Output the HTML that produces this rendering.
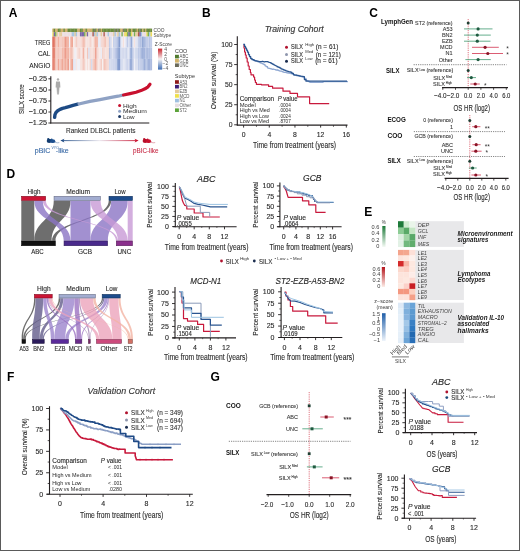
<!DOCTYPE html>
<html><head><meta charset="utf-8"><style>
html,body{margin:0;padding:0;background:#fff;}
svg{display:block;will-change:transform;}
text{font-family:"Liberation Sans", sans-serif;}
</style></head><body>
<svg width="520" height="551" viewBox="0 0 520 551">
<rect x="0" y="0" width="520" height="551" fill="#fff"/>
<text x="8.80" y="16.70" font-size="12.0" fill="#000" font-weight="bold">A</text>
<rect x="52.30" y="36.40" width="1.68" height="11.20" fill="#dd6a58"/>
<rect x="52.30" y="47.60" width="1.68" height="11.30" fill="#e27c6a"/>
<rect x="52.30" y="58.90" width="1.68" height="11.40" fill="#e37d6b"/>
<rect x="52.30" y="28.60" width="1.68" height="3.50" fill="#cdb06c"/>
<rect x="52.30" y="32.10" width="1.68" height="4.30" fill="#eedc60"/>
<rect x="53.68" y="36.40" width="1.68" height="11.20" fill="#e58675"/>
<rect x="53.68" y="47.60" width="1.68" height="11.30" fill="#e58675"/>
<rect x="53.68" y="58.90" width="1.68" height="11.40" fill="#e99281"/>
<rect x="53.68" y="28.60" width="1.68" height="3.50" fill="#6a8a3c"/>
<rect x="53.68" y="32.10" width="1.68" height="4.30" fill="#7a68a8"/>
<rect x="55.06" y="36.40" width="1.68" height="11.20" fill="#f2b7a8"/>
<rect x="55.06" y="47.60" width="1.68" height="11.30" fill="#f3c3b7"/>
<rect x="55.06" y="58.90" width="1.68" height="11.40" fill="#f3c3b7"/>
<rect x="55.06" y="28.60" width="1.68" height="3.50" fill="#cdb06c"/>
<rect x="55.06" y="32.10" width="1.68" height="4.30" fill="#78ae58"/>
<rect x="56.45" y="36.40" width="1.68" height="11.20" fill="#f4d0c7"/>
<rect x="56.45" y="47.60" width="1.68" height="11.30" fill="#f4cec5"/>
<rect x="56.45" y="58.90" width="1.68" height="11.40" fill="#f5d2ca"/>
<rect x="56.45" y="28.60" width="1.68" height="3.50" fill="#cdb06c"/>
<rect x="56.45" y="32.10" width="1.68" height="4.30" fill="#e6cc9e"/>
<rect x="57.83" y="36.40" width="1.68" height="11.20" fill="#f2b0a0"/>
<rect x="57.83" y="47.60" width="1.68" height="11.30" fill="#f4c6bb"/>
<rect x="57.83" y="58.90" width="1.68" height="11.40" fill="#efa696"/>
<rect x="57.83" y="28.60" width="1.68" height="3.50" fill="#6a8a3c"/>
<rect x="57.83" y="32.10" width="1.68" height="4.30" fill="#ecdfe2"/>
<rect x="59.21" y="36.40" width="1.68" height="11.20" fill="#f4cac0"/>
<rect x="59.21" y="47.60" width="1.68" height="11.30" fill="#f4ccc3"/>
<rect x="59.21" y="58.90" width="1.68" height="11.40" fill="#f4c9bf"/>
<rect x="59.21" y="28.60" width="1.68" height="3.50" fill="#6a8a3c"/>
<rect x="59.21" y="32.10" width="1.68" height="4.30" fill="#e6cc9e"/>
<rect x="60.59" y="36.40" width="1.68" height="11.20" fill="#f4cfc7"/>
<rect x="60.59" y="47.60" width="1.68" height="11.30" fill="#f4d1c9"/>
<rect x="60.59" y="58.90" width="1.68" height="11.40" fill="#f3bbae"/>
<rect x="60.59" y="28.60" width="1.68" height="3.50" fill="#cdb06c"/>
<rect x="60.59" y="32.10" width="1.68" height="4.30" fill="#e6cc9e"/>
<rect x="61.97" y="36.40" width="1.68" height="11.20" fill="#f4c6bb"/>
<rect x="61.97" y="47.60" width="1.68" height="11.30" fill="#f3baac"/>
<rect x="61.97" y="58.90" width="1.68" height="11.40" fill="#efa998"/>
<rect x="61.97" y="28.60" width="1.68" height="3.50" fill="#cdb06c"/>
<rect x="61.97" y="32.10" width="1.68" height="4.30" fill="#ecdfe2"/>
<rect x="63.36" y="36.40" width="1.68" height="11.20" fill="#f3c1b5"/>
<rect x="63.36" y="47.60" width="1.68" height="11.30" fill="#f3b8aa"/>
<rect x="63.36" y="58.90" width="1.68" height="11.40" fill="#f3bfb3"/>
<rect x="63.36" y="28.60" width="1.68" height="3.50" fill="#6a8a3c"/>
<rect x="63.36" y="32.10" width="1.68" height="4.30" fill="#ecdfe2"/>
<rect x="64.74" y="36.40" width="1.68" height="11.20" fill="#eb9b8a"/>
<rect x="64.74" y="47.60" width="1.68" height="11.30" fill="#ec9c8c"/>
<rect x="64.74" y="58.90" width="1.68" height="11.40" fill="#f0ac9c"/>
<rect x="64.74" y="28.60" width="1.68" height="3.50" fill="#cdb06c"/>
<rect x="64.74" y="32.10" width="1.68" height="4.30" fill="#ecdfe2"/>
<rect x="66.12" y="36.40" width="1.68" height="11.20" fill="#f0ac9c"/>
<rect x="66.12" y="47.60" width="1.68" height="11.30" fill="#f2b2a3"/>
<rect x="66.12" y="58.90" width="1.68" height="11.40" fill="#f3bdaf"/>
<rect x="66.12" y="28.60" width="1.68" height="3.50" fill="#cdb06c"/>
<rect x="66.12" y="32.10" width="1.68" height="4.30" fill="#ecdfe2"/>
<rect x="67.50" y="36.40" width="1.68" height="11.20" fill="#f1af9f"/>
<rect x="67.50" y="47.60" width="1.68" height="11.30" fill="#f1af9f"/>
<rect x="67.50" y="58.90" width="1.68" height="11.40" fill="#ea9786"/>
<rect x="67.50" y="28.60" width="1.68" height="3.50" fill="#6a8a3c"/>
<rect x="67.50" y="32.10" width="1.68" height="4.30" fill="#ecdfe2"/>
<rect x="68.88" y="36.40" width="1.68" height="11.20" fill="#f0f0f7"/>
<rect x="68.88" y="47.60" width="1.68" height="11.30" fill="#f5d6cf"/>
<rect x="68.88" y="58.90" width="1.68" height="11.40" fill="#f6e4e1"/>
<rect x="68.88" y="28.60" width="1.68" height="3.50" fill="#6a8a3c"/>
<rect x="68.88" y="32.10" width="1.68" height="4.30" fill="#ecdfe2"/>
<rect x="70.27" y="36.40" width="1.68" height="11.20" fill="#f2b0a0"/>
<rect x="70.27" y="47.60" width="1.68" height="11.30" fill="#f2b7a8"/>
<rect x="70.27" y="58.90" width="1.68" height="11.40" fill="#f2b5a5"/>
<rect x="70.27" y="28.60" width="1.68" height="3.50" fill="#6a8a3c"/>
<rect x="70.27" y="32.10" width="1.68" height="4.30" fill="#ecdfe2"/>
<rect x="71.65" y="36.40" width="1.68" height="11.20" fill="#efa897"/>
<rect x="71.65" y="47.60" width="1.68" height="11.30" fill="#f4cbc1"/>
<rect x="71.65" y="58.90" width="1.68" height="11.40" fill="#eea695"/>
<rect x="71.65" y="28.60" width="1.68" height="3.50" fill="#6a8a3c"/>
<rect x="71.65" y="32.10" width="1.68" height="4.30" fill="#a8c6e2"/>
<rect x="73.03" y="36.40" width="1.68" height="11.20" fill="#f7edec"/>
<rect x="73.03" y="47.60" width="1.68" height="11.30" fill="#f6e2de"/>
<rect x="73.03" y="58.90" width="1.68" height="11.40" fill="#e2e5f2"/>
<rect x="73.03" y="28.60" width="1.68" height="3.50" fill="#6a8a3c"/>
<rect x="73.03" y="32.10" width="1.68" height="4.30" fill="#a8c6e2"/>
<rect x="74.41" y="36.40" width="1.68" height="11.20" fill="#f5ded9"/>
<rect x="74.41" y="47.60" width="1.68" height="11.30" fill="#eff0f7"/>
<rect x="74.41" y="58.90" width="1.68" height="11.40" fill="#e8eaf4"/>
<rect x="74.41" y="28.60" width="1.68" height="3.50" fill="#6a8a3c"/>
<rect x="74.41" y="32.10" width="1.68" height="4.30" fill="#e6cc9e"/>
<rect x="75.79" y="36.40" width="1.68" height="11.20" fill="#f4cdc4"/>
<rect x="75.79" y="47.60" width="1.68" height="11.30" fill="#f7ebea"/>
<rect x="75.79" y="58.90" width="1.68" height="11.40" fill="#f6e8e6"/>
<rect x="75.79" y="28.60" width="1.68" height="3.50" fill="#6a8a3c"/>
<rect x="75.79" y="32.10" width="1.68" height="4.30" fill="#a8c6e2"/>
<rect x="77.17" y="36.40" width="1.68" height="11.20" fill="#f5dad5"/>
<rect x="77.17" y="47.60" width="1.68" height="11.30" fill="#f5dbd6"/>
<rect x="77.17" y="58.90" width="1.68" height="11.40" fill="#efeff6"/>
<rect x="77.17" y="28.60" width="1.68" height="3.50" fill="#cdb06c"/>
<rect x="77.17" y="32.10" width="1.68" height="4.30" fill="#ecdfe2"/>
<rect x="78.56" y="36.40" width="1.68" height="11.20" fill="#f6e1dd"/>
<rect x="78.56" y="47.60" width="1.68" height="11.30" fill="#f5d3cb"/>
<rect x="78.56" y="58.90" width="1.68" height="11.40" fill="#f0f1f7"/>
<rect x="78.56" y="28.60" width="1.68" height="3.50" fill="#cdb06c"/>
<rect x="78.56" y="32.10" width="1.68" height="4.30" fill="#ecdfe2"/>
<rect x="79.94" y="36.40" width="1.68" height="11.20" fill="#f6dfdb"/>
<rect x="79.94" y="47.60" width="1.68" height="11.30" fill="#f6e1dd"/>
<rect x="79.94" y="58.90" width="1.68" height="11.40" fill="#f6e4e1"/>
<rect x="79.94" y="28.60" width="1.68" height="3.50" fill="#6a8a3c"/>
<rect x="79.94" y="32.10" width="1.68" height="4.30" fill="#7a68a8"/>
<rect x="81.32" y="36.40" width="1.68" height="11.20" fill="#f5d2ca"/>
<rect x="81.32" y="47.60" width="1.68" height="11.30" fill="#f6e3e0"/>
<rect x="81.32" y="58.90" width="1.68" height="11.40" fill="#f5ddd8"/>
<rect x="81.32" y="28.60" width="1.68" height="3.50" fill="#6a8a3c"/>
<rect x="81.32" y="32.10" width="1.68" height="4.30" fill="#7a68a8"/>
<rect x="82.70" y="36.40" width="1.68" height="11.20" fill="#f3bfb2"/>
<rect x="82.70" y="47.60" width="1.68" height="11.30" fill="#f2b4a5"/>
<rect x="82.70" y="58.90" width="1.68" height="11.40" fill="#f4cac0"/>
<rect x="82.70" y="28.60" width="1.68" height="3.50" fill="#cdb06c"/>
<rect x="82.70" y="32.10" width="1.68" height="4.30" fill="#7a68a8"/>
<rect x="84.08" y="36.40" width="1.68" height="11.20" fill="#f3c3b7"/>
<rect x="84.08" y="47.60" width="1.68" height="11.30" fill="#f5dad4"/>
<rect x="84.08" y="58.90" width="1.68" height="11.40" fill="#f4d1c9"/>
<rect x="84.08" y="28.60" width="1.68" height="3.50" fill="#cdb06c"/>
<rect x="84.08" y="32.10" width="1.68" height="4.30" fill="#78ae58"/>
<rect x="85.47" y="36.40" width="1.68" height="11.20" fill="#f6e8e6"/>
<rect x="85.47" y="47.60" width="1.68" height="11.30" fill="#f7eeed"/>
<rect x="85.47" y="58.90" width="1.68" height="11.40" fill="#f7f0f0"/>
<rect x="85.47" y="28.60" width="1.68" height="3.50" fill="#6a8a3c"/>
<rect x="85.47" y="32.10" width="1.68" height="4.30" fill="#e6cc9e"/>
<rect x="86.85" y="36.40" width="1.68" height="11.20" fill="#f6e3e0"/>
<rect x="86.85" y="47.60" width="1.68" height="11.30" fill="#f4c6bb"/>
<rect x="86.85" y="58.90" width="1.68" height="11.40" fill="#f6e0db"/>
<rect x="86.85" y="28.60" width="1.68" height="3.50" fill="#cdb06c"/>
<rect x="86.85" y="32.10" width="1.68" height="4.30" fill="#7a68a8"/>
<rect x="88.23" y="36.40" width="1.68" height="11.20" fill="#f6e2de"/>
<rect x="88.23" y="47.60" width="1.68" height="11.30" fill="#dbe0f0"/>
<rect x="88.23" y="58.90" width="1.68" height="11.40" fill="#f7efee"/>
<rect x="88.23" y="28.60" width="1.68" height="3.50" fill="#cdb06c"/>
<rect x="88.23" y="32.10" width="1.68" height="4.30" fill="#ecdfe2"/>
<rect x="89.61" y="36.40" width="1.68" height="11.20" fill="#f5d5ce"/>
<rect x="89.61" y="47.60" width="1.68" height="11.30" fill="#f5ded9"/>
<rect x="89.61" y="58.90" width="1.68" height="11.40" fill="#f5d6cf"/>
<rect x="89.61" y="28.60" width="1.68" height="3.50" fill="#cdb06c"/>
<rect x="89.61" y="32.10" width="1.68" height="4.30" fill="#ecdfe2"/>
<rect x="90.99" y="36.40" width="1.68" height="11.20" fill="#f6e0dc"/>
<rect x="90.99" y="47.60" width="1.68" height="11.30" fill="#f6e2de"/>
<rect x="90.99" y="58.90" width="1.68" height="11.40" fill="#d6dcee"/>
<rect x="90.99" y="28.60" width="1.68" height="3.50" fill="#cdb06c"/>
<rect x="90.99" y="32.10" width="1.68" height="4.30" fill="#ecdfe2"/>
<rect x="92.38" y="36.40" width="1.68" height="11.20" fill="#f6e9e7"/>
<rect x="92.38" y="47.60" width="1.68" height="11.30" fill="#f5dcd7"/>
<rect x="92.38" y="58.90" width="1.68" height="11.40" fill="#f4cfc7"/>
<rect x="92.38" y="28.60" width="1.68" height="3.50" fill="#6a8a3c"/>
<rect x="92.38" y="32.10" width="1.68" height="4.30" fill="#b05a50"/>
<rect x="93.76" y="36.40" width="1.68" height="11.20" fill="#f4cbc1"/>
<rect x="93.76" y="47.60" width="1.68" height="11.30" fill="#f5d5ce"/>
<rect x="93.76" y="58.90" width="1.68" height="11.40" fill="#f3c1b4"/>
<rect x="93.76" y="28.60" width="1.68" height="3.50" fill="#7a7a6a"/>
<rect x="93.76" y="32.10" width="1.68" height="4.30" fill="#a8c6e2"/>
<rect x="95.14" y="36.40" width="1.68" height="11.20" fill="#f0ac9c"/>
<rect x="95.14" y="47.60" width="1.68" height="11.30" fill="#ea9787"/>
<rect x="95.14" y="58.90" width="1.68" height="11.40" fill="#efa898"/>
<rect x="95.14" y="28.60" width="1.68" height="3.50" fill="#6a8a3c"/>
<rect x="95.14" y="32.10" width="1.68" height="4.30" fill="#e6cc9e"/>
<rect x="96.52" y="36.40" width="1.68" height="11.20" fill="#f2b7a8"/>
<rect x="96.52" y="47.60" width="1.68" height="11.30" fill="#f5dad4"/>
<rect x="96.52" y="58.90" width="1.68" height="11.40" fill="#f5dad4"/>
<rect x="96.52" y="28.60" width="1.68" height="3.50" fill="#cdb06c"/>
<rect x="96.52" y="32.10" width="1.68" height="4.30" fill="#a8c6e2"/>
<rect x="97.90" y="36.40" width="1.68" height="11.20" fill="#e7e9f4"/>
<rect x="97.90" y="47.60" width="1.68" height="11.30" fill="#f6e2df"/>
<rect x="97.90" y="58.90" width="1.68" height="11.40" fill="#f6e9e7"/>
<rect x="97.90" y="28.60" width="1.68" height="3.50" fill="#7a7a6a"/>
<rect x="97.90" y="32.10" width="1.68" height="4.30" fill="#ecdfe2"/>
<rect x="99.29" y="36.40" width="1.68" height="11.20" fill="#e9ebf5"/>
<rect x="99.29" y="47.60" width="1.68" height="11.30" fill="#f6eae8"/>
<rect x="99.29" y="58.90" width="1.68" height="11.40" fill="#f6dfdb"/>
<rect x="99.29" y="28.60" width="1.68" height="3.50" fill="#6a8a3c"/>
<rect x="99.29" y="32.10" width="1.68" height="4.30" fill="#ecdfe2"/>
<rect x="100.67" y="36.40" width="1.68" height="11.20" fill="#f5dad5"/>
<rect x="100.67" y="47.60" width="1.68" height="11.30" fill="#ebecf5"/>
<rect x="100.67" y="58.90" width="1.68" height="11.40" fill="#f4cec5"/>
<rect x="100.67" y="28.60" width="1.68" height="3.50" fill="#cdb06c"/>
<rect x="100.67" y="32.10" width="1.68" height="4.30" fill="#e6cc9e"/>
<rect x="102.05" y="36.40" width="1.68" height="11.20" fill="#f5d7d0"/>
<rect x="102.05" y="47.60" width="1.68" height="11.30" fill="#f4d1c8"/>
<rect x="102.05" y="58.90" width="1.68" height="11.40" fill="#f7f0f0"/>
<rect x="102.05" y="28.60" width="1.68" height="3.50" fill="#6a8a3c"/>
<rect x="102.05" y="32.10" width="1.68" height="4.30" fill="#ecdfe2"/>
<rect x="103.43" y="36.40" width="1.68" height="11.20" fill="#f4cbc1"/>
<rect x="103.43" y="47.60" width="1.68" height="11.30" fill="#f5d9d3"/>
<rect x="103.43" y="58.90" width="1.68" height="11.40" fill="#f3c3b8"/>
<rect x="103.43" y="28.60" width="1.68" height="3.50" fill="#6a8a3c"/>
<rect x="103.43" y="32.10" width="1.68" height="4.30" fill="#b05a50"/>
<rect x="104.81" y="36.40" width="1.68" height="11.20" fill="#f3c4b8"/>
<rect x="104.81" y="47.60" width="1.68" height="11.30" fill="#f6e5e2"/>
<rect x="104.81" y="58.90" width="1.68" height="11.40" fill="#f4cdc3"/>
<rect x="104.81" y="28.60" width="1.68" height="3.50" fill="#6a8a3c"/>
<rect x="104.81" y="32.10" width="1.68" height="4.30" fill="#ecdfe2"/>
<rect x="106.20" y="36.40" width="1.68" height="11.20" fill="#f5ddd7"/>
<rect x="106.20" y="47.60" width="1.68" height="11.30" fill="#f5ddd7"/>
<rect x="106.20" y="58.90" width="1.68" height="11.40" fill="#f5d2ca"/>
<rect x="106.20" y="28.60" width="1.68" height="3.50" fill="#6a8a3c"/>
<rect x="106.20" y="32.10" width="1.68" height="4.30" fill="#ecdfe2"/>
<rect x="107.58" y="36.40" width="1.68" height="11.20" fill="#f5dbd6"/>
<rect x="107.58" y="47.60" width="1.68" height="11.30" fill="#f5ddd8"/>
<rect x="107.58" y="58.90" width="1.68" height="11.40" fill="#f5dcd6"/>
<rect x="107.58" y="28.60" width="1.68" height="3.50" fill="#6a8a3c"/>
<rect x="107.58" y="32.10" width="1.68" height="4.30" fill="#a8c6e2"/>
<rect x="108.96" y="36.40" width="1.68" height="11.20" fill="#c3cde8"/>
<rect x="108.96" y="47.60" width="1.68" height="11.30" fill="#b0bfe1"/>
<rect x="108.96" y="58.90" width="1.68" height="11.40" fill="#d3daee"/>
<rect x="108.96" y="28.60" width="1.68" height="3.50" fill="#6a8a3c"/>
<rect x="108.96" y="32.10" width="1.68" height="4.30" fill="#ecdfe2"/>
<rect x="110.34" y="36.40" width="1.68" height="11.20" fill="#d7ddef"/>
<rect x="110.34" y="47.60" width="1.68" height="11.30" fill="#cad3eb"/>
<rect x="110.34" y="58.90" width="1.68" height="11.40" fill="#d3daed"/>
<rect x="110.34" y="28.60" width="1.68" height="3.50" fill="#6a8a3c"/>
<rect x="110.34" y="32.10" width="1.68" height="4.30" fill="#ecdfe2"/>
<rect x="111.72" y="36.40" width="1.68" height="11.20" fill="#f7f0ef"/>
<rect x="111.72" y="47.60" width="1.68" height="11.30" fill="#dfe3f1"/>
<rect x="111.72" y="58.90" width="1.68" height="11.40" fill="#d4daee"/>
<rect x="111.72" y="28.60" width="1.68" height="3.50" fill="#6a8a3c"/>
<rect x="111.72" y="32.10" width="1.68" height="4.30" fill="#ecdfe2"/>
<rect x="113.11" y="36.40" width="1.68" height="11.20" fill="#c1cce8"/>
<rect x="113.11" y="47.60" width="1.68" height="11.30" fill="#ccd4eb"/>
<rect x="113.11" y="58.90" width="1.68" height="11.40" fill="#cad3ea"/>
<rect x="113.11" y="28.60" width="1.68" height="3.50" fill="#6a8a3c"/>
<rect x="113.11" y="32.10" width="1.68" height="4.30" fill="#e6cc9e"/>
<rect x="114.49" y="36.40" width="1.68" height="11.20" fill="#cbd4eb"/>
<rect x="114.49" y="47.60" width="1.68" height="11.30" fill="#c1cbe7"/>
<rect x="114.49" y="58.90" width="1.68" height="11.40" fill="#cad3eb"/>
<rect x="114.49" y="28.60" width="1.68" height="3.50" fill="#7a7a6a"/>
<rect x="114.49" y="32.10" width="1.68" height="4.30" fill="#a8c6e2"/>
<rect x="115.87" y="36.40" width="1.68" height="11.20" fill="#c3cde8"/>
<rect x="115.87" y="47.60" width="1.68" height="11.30" fill="#b2c0e2"/>
<rect x="115.87" y="58.90" width="1.68" height="11.40" fill="#c4cee8"/>
<rect x="115.87" y="28.60" width="1.68" height="3.50" fill="#6a8a3c"/>
<rect x="115.87" y="32.10" width="1.68" height="4.30" fill="#ecdfe2"/>
<rect x="117.25" y="36.40" width="1.68" height="11.20" fill="#a9b9de"/>
<rect x="117.25" y="47.60" width="1.68" height="11.30" fill="#92a7d4"/>
<rect x="117.25" y="58.90" width="1.68" height="11.40" fill="#8099cd"/>
<rect x="117.25" y="28.60" width="1.68" height="3.50" fill="#7a7a6a"/>
<rect x="117.25" y="32.10" width="1.68" height="4.30" fill="#e6cc9e"/>
<rect x="118.63" y="36.40" width="1.68" height="11.20" fill="#839bce"/>
<rect x="118.63" y="47.60" width="1.68" height="11.30" fill="#8ba2d1"/>
<rect x="118.63" y="58.90" width="1.68" height="11.40" fill="#8199cd"/>
<rect x="118.63" y="28.60" width="1.68" height="3.50" fill="#6a8a3c"/>
<rect x="118.63" y="32.10" width="1.68" height="4.30" fill="#a8c6e2"/>
<rect x="120.02" y="36.40" width="1.68" height="11.20" fill="#cad3eb"/>
<rect x="120.02" y="47.60" width="1.68" height="11.30" fill="#ced6ec"/>
<rect x="120.02" y="58.90" width="1.68" height="11.40" fill="#c7d1ea"/>
<rect x="120.02" y="28.60" width="1.68" height="3.50" fill="#cdb06c"/>
<rect x="120.02" y="32.10" width="1.68" height="4.30" fill="#ecdfe2"/>
<rect x="121.40" y="36.40" width="1.68" height="11.20" fill="#eeeef6"/>
<rect x="121.40" y="47.60" width="1.68" height="11.30" fill="#d6dcee"/>
<rect x="121.40" y="58.90" width="1.68" height="11.40" fill="#d4dbee"/>
<rect x="121.40" y="28.60" width="1.68" height="3.50" fill="#cdb06c"/>
<rect x="121.40" y="32.10" width="1.68" height="4.30" fill="#78ae58"/>
<rect x="122.78" y="36.40" width="1.68" height="11.20" fill="#f6e2de"/>
<rect x="122.78" y="47.60" width="1.68" height="11.30" fill="#d4daee"/>
<rect x="122.78" y="58.90" width="1.68" height="11.40" fill="#e5e7f3"/>
<rect x="122.78" y="28.60" width="1.68" height="3.50" fill="#7a7a6a"/>
<rect x="122.78" y="32.10" width="1.68" height="4.30" fill="#ecdfe2"/>
<rect x="124.16" y="36.40" width="1.68" height="11.20" fill="#f0f0f7"/>
<rect x="124.16" y="47.60" width="1.68" height="11.30" fill="#d7ddef"/>
<rect x="124.16" y="58.90" width="1.68" height="11.40" fill="#dfe3f1"/>
<rect x="124.16" y="28.60" width="1.68" height="3.50" fill="#6a8a3c"/>
<rect x="124.16" y="32.10" width="1.68" height="4.30" fill="#eedc60"/>
<rect x="125.54" y="36.40" width="1.68" height="11.20" fill="#dadff0"/>
<rect x="125.54" y="47.60" width="1.68" height="11.30" fill="#cbd4eb"/>
<rect x="125.54" y="58.90" width="1.68" height="11.40" fill="#d2d9ed"/>
<rect x="125.54" y="28.60" width="1.68" height="3.50" fill="#6a8a3c"/>
<rect x="125.54" y="32.10" width="1.68" height="4.30" fill="#eedc60"/>
<rect x="126.93" y="36.40" width="1.68" height="11.20" fill="#bfcae7"/>
<rect x="126.93" y="47.60" width="1.68" height="11.30" fill="#dde2f1"/>
<rect x="126.93" y="58.90" width="1.68" height="11.40" fill="#cdd5ec"/>
<rect x="126.93" y="28.60" width="1.68" height="3.50" fill="#cdb06c"/>
<rect x="126.93" y="32.10" width="1.68" height="4.30" fill="#78ae58"/>
<rect x="128.31" y="36.40" width="1.68" height="11.20" fill="#dce1f0"/>
<rect x="128.31" y="47.60" width="1.68" height="11.30" fill="#e2e6f2"/>
<rect x="128.31" y="58.90" width="1.68" height="11.40" fill="#d5dbee"/>
<rect x="128.31" y="28.60" width="1.68" height="3.50" fill="#6a8a3c"/>
<rect x="128.31" y="32.10" width="1.68" height="4.30" fill="#7a68a8"/>
<rect x="129.69" y="36.40" width="1.68" height="11.20" fill="#bac6e5"/>
<rect x="129.69" y="47.60" width="1.68" height="11.30" fill="#a7b8dd"/>
<rect x="129.69" y="58.90" width="1.68" height="11.40" fill="#99acd7"/>
<rect x="129.69" y="28.60" width="1.68" height="3.50" fill="#6a8a3c"/>
<rect x="129.69" y="32.10" width="1.68" height="4.30" fill="#78ae58"/>
<rect x="131.07" y="36.40" width="1.68" height="11.20" fill="#93a8d5"/>
<rect x="131.07" y="47.60" width="1.68" height="11.30" fill="#98acd7"/>
<rect x="131.07" y="58.90" width="1.68" height="11.40" fill="#97abd6"/>
<rect x="131.07" y="28.60" width="1.68" height="3.50" fill="#cdb06c"/>
<rect x="131.07" y="32.10" width="1.68" height="4.30" fill="#eedc60"/>
<rect x="132.45" y="36.40" width="1.68" height="11.20" fill="#e9ebf4"/>
<rect x="132.45" y="47.60" width="1.68" height="11.30" fill="#cbd3eb"/>
<rect x="132.45" y="58.90" width="1.68" height="11.40" fill="#c9d2ea"/>
<rect x="132.45" y="28.60" width="1.68" height="3.50" fill="#6a8a3c"/>
<rect x="132.45" y="32.10" width="1.68" height="4.30" fill="#ecdfe2"/>
<rect x="133.83" y="36.40" width="1.68" height="11.20" fill="#f6e3df"/>
<rect x="133.83" y="47.60" width="1.68" height="11.30" fill="#e5e7f3"/>
<rect x="133.83" y="58.90" width="1.68" height="11.40" fill="#f1f1f7"/>
<rect x="133.83" y="28.60" width="1.68" height="3.50" fill="#6a8a3c"/>
<rect x="133.83" y="32.10" width="1.68" height="4.30" fill="#78ae58"/>
<rect x="135.22" y="36.40" width="1.68" height="11.20" fill="#e2e5f2"/>
<rect x="135.22" y="47.60" width="1.68" height="11.30" fill="#ced6ec"/>
<rect x="135.22" y="58.90" width="1.68" height="11.40" fill="#d5dbee"/>
<rect x="135.22" y="28.60" width="1.68" height="3.50" fill="#6a8a3c"/>
<rect x="135.22" y="32.10" width="1.68" height="4.30" fill="#e6cc9e"/>
<rect x="136.60" y="36.40" width="1.68" height="11.20" fill="#dfe3f1"/>
<rect x="136.60" y="47.60" width="1.68" height="11.30" fill="#d3daed"/>
<rect x="136.60" y="58.90" width="1.68" height="11.40" fill="#dee3f1"/>
<rect x="136.60" y="28.60" width="1.68" height="3.50" fill="#cdb06c"/>
<rect x="136.60" y="32.10" width="1.68" height="4.30" fill="#e6cc9e"/>
<rect x="137.98" y="36.40" width="1.68" height="11.20" fill="#c5cfe9"/>
<rect x="137.98" y="47.60" width="1.68" height="11.30" fill="#bdc9e6"/>
<rect x="137.98" y="58.90" width="1.68" height="11.40" fill="#c0cbe7"/>
<rect x="137.98" y="28.60" width="1.68" height="3.50" fill="#6a8a3c"/>
<rect x="137.98" y="32.10" width="1.68" height="4.30" fill="#b05a50"/>
<rect x="139.36" y="36.40" width="1.68" height="11.20" fill="#b1bfe1"/>
<rect x="139.36" y="47.60" width="1.68" height="11.30" fill="#bfcae7"/>
<rect x="139.36" y="58.90" width="1.68" height="11.40" fill="#c6d0e9"/>
<rect x="139.36" y="28.60" width="1.68" height="3.50" fill="#7a7a6a"/>
<rect x="139.36" y="32.10" width="1.68" height="4.30" fill="#7a68a8"/>
<rect x="140.74" y="36.40" width="1.68" height="11.20" fill="#becae7"/>
<rect x="140.74" y="47.60" width="1.68" height="11.30" fill="#a9b9de"/>
<rect x="140.74" y="58.90" width="1.68" height="11.40" fill="#c3cde8"/>
<rect x="140.74" y="28.60" width="1.68" height="3.50" fill="#6a8a3c"/>
<rect x="140.74" y="32.10" width="1.68" height="4.30" fill="#a8c6e2"/>
<rect x="142.13" y="36.40" width="1.68" height="11.20" fill="#879ecf"/>
<rect x="142.13" y="47.60" width="1.68" height="11.30" fill="#95a9d5"/>
<rect x="142.13" y="58.90" width="1.68" height="11.40" fill="#bac6e5"/>
<rect x="142.13" y="28.60" width="1.68" height="3.50" fill="#cdb06c"/>
<rect x="142.13" y="32.10" width="1.68" height="4.30" fill="#ecdfe2"/>
<rect x="143.51" y="36.40" width="1.68" height="11.20" fill="#a9b9de"/>
<rect x="143.51" y="47.60" width="1.68" height="11.30" fill="#a0b2da"/>
<rect x="143.51" y="58.90" width="1.68" height="11.40" fill="#9cafd8"/>
<rect x="143.51" y="28.60" width="1.68" height="3.50" fill="#6a8a3c"/>
<rect x="143.51" y="32.10" width="1.68" height="4.30" fill="#ecdfe2"/>
<rect x="144.89" y="36.40" width="1.68" height="11.20" fill="#b6c3e4"/>
<rect x="144.89" y="47.60" width="1.68" height="11.30" fill="#bdc8e6"/>
<rect x="144.89" y="58.90" width="1.68" height="11.40" fill="#b3c1e2"/>
<rect x="144.89" y="28.60" width="1.68" height="3.50" fill="#cdb06c"/>
<rect x="144.89" y="32.10" width="1.68" height="4.30" fill="#ecdfe2"/>
<rect x="146.27" y="36.40" width="1.68" height="11.20" fill="#bac6e5"/>
<rect x="146.27" y="47.60" width="1.68" height="11.30" fill="#a3b4db"/>
<rect x="146.27" y="58.90" width="1.68" height="11.40" fill="#b6c3e3"/>
<rect x="146.27" y="28.60" width="1.68" height="3.50" fill="#6a8a3c"/>
<rect x="146.27" y="32.10" width="1.68" height="4.30" fill="#eedc60"/>
<rect x="147.65" y="36.40" width="1.68" height="11.20" fill="#ccd4eb"/>
<rect x="147.65" y="47.60" width="1.68" height="11.30" fill="#b7c4e4"/>
<rect x="147.65" y="58.90" width="1.68" height="11.40" fill="#a2b3db"/>
<rect x="147.65" y="28.60" width="1.68" height="3.50" fill="#6a8a3c"/>
<rect x="147.65" y="32.10" width="1.68" height="4.30" fill="#78ae58"/>
<rect x="149.04" y="36.40" width="1.68" height="11.20" fill="#b5c2e3"/>
<rect x="149.04" y="47.60" width="1.68" height="11.30" fill="#aebde0"/>
<rect x="149.04" y="58.90" width="1.68" height="11.40" fill="#a0b2da"/>
<rect x="149.04" y="28.60" width="1.68" height="3.50" fill="#6a8a3c"/>
<rect x="149.04" y="32.10" width="1.68" height="4.30" fill="#a8c6e2"/>
<rect x="150.42" y="36.40" width="1.68" height="11.20" fill="#c3cde8"/>
<rect x="150.42" y="47.60" width="1.68" height="11.30" fill="#b8c5e4"/>
<rect x="150.42" y="58.90" width="1.68" height="11.40" fill="#adbce0"/>
<rect x="150.42" y="28.60" width="1.68" height="3.50" fill="#6a8a3c"/>
<rect x="150.42" y="32.10" width="1.68" height="4.30" fill="#eedc60"/>
<text x="50.40" y="44.80" font-size="7.6" fill="#2a2a2a" stroke="#2a2a2a" stroke-width="0.12" text-anchor="end" textLength="15.60" lengthAdjust="spacingAndGlyphs">TREG</text>
<text x="50.40" y="55.80" font-size="7.6" fill="#2a2a2a" stroke="#2a2a2a" stroke-width="0.12" text-anchor="end" textLength="12.40" lengthAdjust="spacingAndGlyphs">CAL</text>
<text x="50.40" y="68.30" font-size="7.6" fill="#2a2a2a" stroke="#2a2a2a" stroke-width="0.12" text-anchor="end" textLength="21.20" lengthAdjust="spacingAndGlyphs">ANGIO</text>
<text x="153.60" y="31.60" font-size="4.8" fill="#444">COO</text>
<text x="153.60" y="36.80" font-size="4.8" fill="#444">Subtype</text>
<text x="154.80" y="46.30" font-size="4.8" fill="#444">Z-Score</text>
<defs><linearGradient id="zg" x1="0" y1="0" x2="0" y2="1"><stop offset="0" stop-color="#c8242c"/><stop offset="0.5" stop-color="#f7f4f4"/><stop offset="1" stop-color="#3b6bb3"/></linearGradient></defs>
<rect x="158.00" y="48.60" width="4.20" height="21.00" fill="url(#zg)"/>
<text x="164.20" y="51.40" font-size="5.0" fill="#555">4</text>
<text x="164.20" y="56.00" font-size="5.0" fill="#555">2</text>
<text x="164.20" y="60.60" font-size="5.0" fill="#555">0</text>
<text x="162.60" y="65.40" font-size="5.0" fill="#555">−2</text>
<text x="162.60" y="70.40" font-size="5.0" fill="#555">−4</text>
<text x="175.00" y="52.90" font-size="6.2" fill="#333" textLength="12.30" lengthAdjust="spacingAndGlyphs">COO</text>
<rect x="175.00" y="54.80" width="3.90" height="3.60" fill="#4f7a2e"/>
<text x="179.60" y="58.30" font-size="4.9" fill="#555" textLength="8.80" lengthAdjust="spacingAndGlyphs">ABC</text>
<rect x="175.00" y="59.00" width="3.90" height="3.60" fill="#d4b46a"/>
<text x="179.60" y="62.50" font-size="4.9" fill="#555" textLength="8.80" lengthAdjust="spacingAndGlyphs">GCB</text>
<rect x="175.00" y="63.40" width="3.90" height="3.60" fill="#6a6a5a"/>
<text x="179.60" y="66.90" font-size="4.9" fill="#555" textLength="8.80" lengthAdjust="spacingAndGlyphs">UNC</text>
<text x="174.80" y="78.20" font-size="6.2" fill="#333" textLength="20.20" lengthAdjust="spacingAndGlyphs">Subtype</text>
<rect x="175.00" y="80.20" width="3.90" height="3.60" fill="#8e1b1b"/>
<text x="179.60" y="83.70" font-size="4.9" fill="#555" textLength="7.60" lengthAdjust="spacingAndGlyphs">A53</text>
<rect x="175.00" y="84.90" width="3.90" height="3.60" fill="#3c1f78"/>
<text x="179.60" y="88.40" font-size="4.9" fill="#555" textLength="7.80" lengthAdjust="spacingAndGlyphs">BN2</text>
<rect x="175.00" y="89.60" width="3.90" height="3.60" fill="#e3c99a"/>
<text x="179.60" y="93.10" font-size="4.9" fill="#555" textLength="7.60" lengthAdjust="spacingAndGlyphs">EZB</text>
<rect x="175.00" y="94.10" width="3.90" height="3.60" fill="#efe04a"/>
<text x="179.60" y="97.60" font-size="4.9" fill="#555" textLength="9.90" lengthAdjust="spacingAndGlyphs">MCD</text>
<rect x="175.00" y="98.80" width="3.90" height="3.60" fill="#9fc0e0"/>
<text x="179.60" y="102.30" font-size="4.9" fill="#555" textLength="5.40" lengthAdjust="spacingAndGlyphs">N1</text>
<rect x="175.00" y="103.60" width="3.90" height="3.60" fill="#e6dde2"/>
<text x="179.60" y="107.10" font-size="4.9" fill="#555" textLength="11.40" lengthAdjust="spacingAndGlyphs">Other</text>
<rect x="175.00" y="108.40" width="3.90" height="3.60" fill="#5da33a"/>
<text x="179.60" y="111.90" font-size="4.9" fill="#555" textLength="7.20" lengthAdjust="spacingAndGlyphs">ST2</text>
<line x1="50.80" y1="76.20" x2="50.80" y2="123.40" stroke="#231f20" stroke-width="1.1"/>
<line x1="50.30" y1="123.00" x2="149.30" y2="123.00" stroke="#231f20" stroke-width="1.1"/>
<line x1="48.40" y1="78.80" x2="50.80" y2="78.80" stroke="#231f20" stroke-width="0.9"/>
<text x="47.00" y="81.20" font-size="7.0" fill="#2a2a2a" stroke="#2a2a2a" stroke-width="0.12" text-anchor="end" textLength="18.40" lengthAdjust="spacingAndGlyphs">−0.25</text>
<line x1="48.40" y1="90.00" x2="50.80" y2="90.00" stroke="#231f20" stroke-width="0.9"/>
<text x="47.00" y="92.40" font-size="7.0" fill="#2a2a2a" stroke="#2a2a2a" stroke-width="0.12" text-anchor="end" textLength="18.40" lengthAdjust="spacingAndGlyphs">−0.50</text>
<line x1="48.40" y1="101.00" x2="50.80" y2="101.00" stroke="#231f20" stroke-width="0.9"/>
<text x="47.00" y="103.40" font-size="7.0" fill="#2a2a2a" stroke="#2a2a2a" stroke-width="0.12" text-anchor="end" textLength="18.40" lengthAdjust="spacingAndGlyphs">−0.75</text>
<line x1="48.40" y1="112.00" x2="50.80" y2="112.00" stroke="#231f20" stroke-width="0.9"/>
<text x="47.00" y="114.40" font-size="7.0" fill="#2a2a2a" stroke="#2a2a2a" stroke-width="0.12" text-anchor="end" textLength="18.40" lengthAdjust="spacingAndGlyphs">−1.00</text>
<line x1="48.40" y1="123.00" x2="50.80" y2="123.00" stroke="#231f20" stroke-width="0.9"/>
<text x="47.00" y="125.40" font-size="7.0" fill="#2a2a2a" stroke="#2a2a2a" stroke-width="0.12" text-anchor="end" textLength="18.40" lengthAdjust="spacingAndGlyphs">−1.25</text>
<text x="24.00" y="99.20" font-size="8.0" fill="#2a2a2a" stroke="#2a2a2a" stroke-width="0.12" text-anchor="middle" textLength="29.60" lengthAdjust="spacingAndGlyphs" transform="rotate(-90 24.00 99.20)">SILX score</text>
<text x="100.80" y="133.40" font-size="7.2" fill="#333" stroke="#333" stroke-width="0.12" text-anchor="middle" textLength="69.50" lengthAdjust="spacingAndGlyphs">Ranked DLBCL patients</text>
<path d="M54.60,117.40 L55.00,114.60 L56.00,112.40 L57.70,110.80 L60.00,109.40 L62.50,108.40 L65.40,107.70 L69.00,106.60 L73.00,105.40 L77.70,104.20" fill="none" stroke="#1d4a84" stroke-width="3.4" stroke-linejoin="round" stroke-linecap="round"/>
<path d="M77.70,104.20 L90.00,101.40 L100.00,99.60 L110.00,97.60 L118.00,96.20 L123.50,95.00" fill="none" stroke="#8fa2c4" stroke-width="3.2" stroke-linejoin="round"/>
<path d="M123.50,95.00 L130.00,93.60 L136.00,92.20 L141.00,90.60 L145.00,88.80 L148.00,86.80 L150.00,84.20" fill="none" stroke="#c8102e" stroke-width="3.2" stroke-linejoin="round" stroke-linecap="round"/>
<g fill="#ababab"><circle cx="58.0" cy="79.4" r="1.2"/><path d="M56.0,81.4 L60.0,81.4 L60.4,87.6 L59.4,87.6 L59.0,94.4 L58.2,94.4 L58.0,89 L57.8,94.4 L57.0,94.4 L56.6,87.6 L55.6,87.6 Z"/></g>
<circle cx="119.60" cy="105.40" r="1.5" fill="#c8102e"/>
<text x="123.00" y="107.50" font-size="6.0" fill="#2a2a2a" textLength="13.60" lengthAdjust="spacingAndGlyphs">High</text>
<circle cx="119.60" cy="111.20" r="1.5" fill="#8fa2c4"/>
<text x="123.00" y="113.30" font-size="6.0" fill="#2a2a2a" textLength="23.90" lengthAdjust="spacingAndGlyphs">Medium</text>
<circle cx="119.60" cy="116.60" r="1.5" fill="#1d3a66"/>
<text x="123.00" y="118.70" font-size="6.0" fill="#2a2a2a" textLength="11.60" lengthAdjust="spacingAndGlyphs">Low</text>
<defs><linearGradient id="ag" x1="0" y1="0" x2="1" y2="0"><stop offset="0" stop-color="#1d4a84"/><stop offset="0.5" stop-color="#e8e4ec"/><stop offset="1" stop-color="#c8102e"/></linearGradient></defs>
<rect x="62.00" y="140.20" width="75.00" height="0.90" fill="url(#ag)"/>
<path d="M60.4,140.6 L64.4,138.8 L63.4,140.6 L64.4,142.4 Z" fill="#1d4a84"/>
<path d="M138.6,140.6 L134.6,138.8 L135.6,140.6 L134.6,142.4 Z" fill="#c8102e"/>
<g fill="#123c70"><ellipse cx="49.20" cy="140.9" rx="2.5" ry="2.1"/><ellipse cx="52.70" cy="141.2" rx="2.6" ry="1.9" fill="#1c4f8e"/><circle cx="48.20" cy="139.1" r="1.0"/><circle cx="51.70" cy="139.4" r="0.9" fill="#1c4f8e"/></g><path d="M54.90,142.2 Q57.20,143.2 59.30,142.6" stroke="#9fb2cc" stroke-width="0.9" fill="none"/>
<g fill="#b80f2a"><ellipse cx="145.10" cy="140.9" rx="2.5" ry="2.1"/><ellipse cx="148.60" cy="141.2" rx="2.6" ry="1.9" fill="#c8102e"/><circle cx="144.10" cy="139.1" r="1.0"/><circle cx="147.60" cy="139.4" r="0.9" fill="#c8102e"/></g><path d="M150.80,142.2 Q153.10,143.2 155.20,142.6" stroke="#e0a0ac" stroke-width="0.9" fill="none"/>
<text x="34.80" y="152.80" font-size="7.0" fill="#3a6aa6" stroke="#3a6aa6" stroke-width="0.12">pBIC</text>
<text x="51.40" y="148.80" font-size="3.4" fill="#3a6aa6">VYO</text>
<text x="55.80" y="152.80" font-size="7.0" fill="#3a6aa6" stroke="#3a6aa6" stroke-width="0.12">-like</text>
<text x="133.00" y="152.80" font-size="7.0" fill="#c8304a" stroke="#c8304a" stroke-width="0.12" textLength="25.40" lengthAdjust="spacingAndGlyphs">pBIC-like</text>
<text x="201.90" y="16.70" font-size="12.0" fill="#000" font-weight="bold">B</text>
<text x="294.20" y="31.60" font-size="8.4" fill="#333" stroke="#333" stroke-width="0.12" text-anchor="middle" font-style="italic" textLength="59.00" lengthAdjust="spacingAndGlyphs">Training Cohort</text>
<line x1="237.30" y1="36.20" x2="237.30" y2="125.60" stroke="#231f20" stroke-width="1.1"/>
<line x1="236.80" y1="125.10" x2="347.50" y2="125.10" stroke="#231f20" stroke-width="1.1"/>
<line x1="234.20" y1="44.50" x2="237.30" y2="44.50" stroke="#231f20" stroke-width="0.9"/>
<text x="232.60" y="46.90" font-size="6.8" fill="#2a2a2a" stroke="#2a2a2a" stroke-width="0.12" text-anchor="end">100</text>
<line x1="234.20" y1="64.57" x2="237.30" y2="64.57" stroke="#231f20" stroke-width="0.9"/>
<text x="232.60" y="66.97" font-size="6.8" fill="#2a2a2a" stroke="#2a2a2a" stroke-width="0.12" text-anchor="end">75</text>
<line x1="234.20" y1="84.65" x2="237.30" y2="84.65" stroke="#231f20" stroke-width="0.9"/>
<text x="232.60" y="87.05" font-size="6.8" fill="#2a2a2a" stroke="#2a2a2a" stroke-width="0.12" text-anchor="end">50</text>
<line x1="234.20" y1="104.72" x2="237.30" y2="104.72" stroke="#231f20" stroke-width="0.9"/>
<text x="232.60" y="107.12" font-size="6.8" fill="#2a2a2a" stroke="#2a2a2a" stroke-width="0.12" text-anchor="end">25</text>
<line x1="234.20" y1="124.80" x2="237.30" y2="124.80" stroke="#231f20" stroke-width="0.9"/>
<text x="232.60" y="127.20" font-size="6.8" fill="#2a2a2a" stroke="#2a2a2a" stroke-width="0.12" text-anchor="end">0</text>
<line x1="235.70" y1="54.54" x2="237.30" y2="54.54" stroke="#231f20" stroke-width="0.8"/>
<line x1="235.70" y1="74.61" x2="237.30" y2="74.61" stroke="#231f20" stroke-width="0.8"/>
<line x1="235.70" y1="94.69" x2="237.30" y2="94.69" stroke="#231f20" stroke-width="0.8"/>
<line x1="235.70" y1="114.76" x2="237.30" y2="114.76" stroke="#231f20" stroke-width="0.8"/>
<line x1="243.60" y1="125.10" x2="243.60" y2="127.60" stroke="#231f20" stroke-width="0.9"/>
<text x="243.60" y="137.10" font-size="6.8" fill="#2a2a2a" stroke="#2a2a2a" stroke-width="0.12" text-anchor="middle">0</text>
<line x1="269.28" y1="125.10" x2="269.28" y2="127.60" stroke="#231f20" stroke-width="0.9"/>
<text x="269.28" y="137.10" font-size="6.8" fill="#2a2a2a" stroke="#2a2a2a" stroke-width="0.12" text-anchor="middle">4</text>
<line x1="294.96" y1="125.10" x2="294.96" y2="127.60" stroke="#231f20" stroke-width="0.9"/>
<text x="294.96" y="137.10" font-size="6.8" fill="#2a2a2a" stroke="#2a2a2a" stroke-width="0.12" text-anchor="middle">8</text>
<line x1="320.64" y1="125.10" x2="320.64" y2="127.60" stroke="#231f20" stroke-width="0.9"/>
<text x="320.64" y="137.10" font-size="6.8" fill="#2a2a2a" stroke="#2a2a2a" stroke-width="0.12" text-anchor="middle">12</text>
<line x1="346.32" y1="125.10" x2="346.32" y2="127.60" stroke="#231f20" stroke-width="0.9"/>
<text x="346.32" y="137.10" font-size="6.8" fill="#2a2a2a" stroke="#2a2a2a" stroke-width="0.12" text-anchor="middle">16</text>
<line x1="256.44" y1="125.20" x2="256.44" y2="126.80" stroke="#231f20" stroke-width="0.7"/>
<line x1="282.12" y1="125.20" x2="282.12" y2="126.80" stroke="#231f20" stroke-width="0.7"/>
<line x1="307.80" y1="125.20" x2="307.80" y2="126.80" stroke="#231f20" stroke-width="0.7"/>
<line x1="333.48" y1="125.20" x2="333.48" y2="126.80" stroke="#231f20" stroke-width="0.7"/>
<text x="215.80" y="80.40" font-size="7.4" fill="#2a2a2a" stroke="#2a2a2a" stroke-width="0.12" text-anchor="middle" textLength="57.70" lengthAdjust="spacingAndGlyphs" transform="rotate(-90 215.80 80.40)">Overall survival (%)</text>
<text x="294.60" y="148.30" font-size="8.8" fill="#2a2a2a" stroke="#2a2a2a" stroke-width="0.12" text-anchor="middle" textLength="83.00" lengthAdjust="spacingAndGlyphs">Time from treatment (years)</text>
<path d="M243.40,45.00 L244.00,45.00 L244.00,48.00 L244.60,48.00 L244.60,52.00 L245.40,52.00 L245.40,55.00 L246.20,55.00 L246.20,58.00 L247.20,58.00 L247.20,62.00 L248.20,62.00 L248.20,66.00 L249.20,66.00 L249.20,69.50 L250.40,69.50 L250.40,72.50 L251.00,72.50 L251.00,74.80 L253.00,74.80 L253.60,74.80 L253.60,77.00 L254.60,77.00 L254.60,80.00 L255.40,80.00 L255.40,82.50 L256.40,82.50 L256.40,84.30 L261.00,84.30 L261.50,84.30 L261.50,84.80 L268.60,84.80 L268.60,86.40 L272.60,86.40 L272.60,88.20 L283.00,88.20 L283.00,91.20 L290.00,91.20 L290.00,93.40 L297.50,93.40 L297.50,96.80 L309.60,96.80 L309.60,103.60 L329.20,103.60" fill="none" stroke="#c8193c" stroke-width="1.2" stroke-linejoin="round"/>
<path d="M243.40,44.40 L244.50,44.40 L244.50,46.00 L245.50,46.00 L245.50,48.50 L246.50,48.50 L246.50,50.50 L247.50,50.50 L247.50,52.50 L248.50,52.50 L248.50,55.00 L249.50,55.00 L249.50,57.00 L250.50,57.00 L250.50,58.40 L252.00,58.40 L252.00,59.80 L253.00,59.80 L253.00,59.93 L254.00,59.93 L254.00,60.60 L255.00,60.60 L255.00,60.61 L256.00,60.61 L256.00,61.20 L257.00,61.20 L257.00,61.48 L258.00,61.48 L258.00,62.00 L259.00,62.00 L259.00,62.24 L260.00,62.24 L260.00,62.80 L261.00,62.80 L261.00,63.25 L262.00,63.25 L262.00,63.60 L263.00,63.60 L263.00,64.12 L264.00,64.12 L264.00,64.60 L265.00,64.60 L265.00,65.75 L266.00,65.75 L266.00,66.60 L267.50,66.60 L267.50,68.00 L268.75,68.00 L268.75,68.39 L270.00,68.39 L270.00,68.60 L271.00,68.60 L271.00,68.95 L272.00,68.95 L272.00,69.28 L273.00,69.28 L273.00,69.21 L274.00,69.21 L274.00,69.50 L275.00,69.50 L275.00,69.62 L276.00,69.62 L276.00,70.24 L277.00,70.24 L277.00,69.96 L278.00,69.96 L278.00,70.40 L279.00,70.40 L279.00,70.83 L280.00,70.83 L280.00,71.09 L281.00,71.09 L281.00,71.03 L282.00,71.03 L282.00,71.60 L283.00,71.60 L283.00,72.05 L284.00,72.05 L284.00,72.34 L285.00,72.34 L285.00,72.43 L286.00,72.43 L286.00,72.60 L287.00,72.60 L287.00,72.94 L288.00,72.94 L288.00,73.19 L289.00,73.19 L289.00,72.98 L290.00,72.98 L290.00,73.40 L291.00,73.40 L291.00,73.71 L292.00,73.71 L292.00,74.00 L293.00,74.00 L293.00,74.50 L294.00,74.50 L294.00,74.60 L295.00,74.60 L295.00,74.98 L296.00,74.98 L296.00,75.20 L297.00,75.20 L297.00,75.25 L298.00,75.25 L298.00,75.40 L299.00,75.40 L299.00,75.99 L300.00,75.99 L300.00,76.21 L301.00,76.21 L301.00,76.57 L302.00,76.57 L302.00,76.80 L303.20,76.80 L303.20,77.44 L304.40,77.44 L304.40,78.40 L306.00,78.40 L306.00,80.40 L307.00,80.40 L307.00,80.62 L308.00,80.62 L308.00,81.18 L309.00,81.18 L309.00,81.82 L310.00,81.82 L310.00,82.40 L323.00,82.40 L323.00,81.60 L348.00,81.60" fill="none" stroke="#8fa8d2" stroke-width="1.2" stroke-linejoin="round"/>
<path d="M243.40,44.40 L244.50,44.40 L244.50,46.50 L245.50,46.50 L245.50,48.00 L246.50,48.00 L246.50,50.00 L247.50,50.00 L247.50,52.00 L248.50,52.00 L248.50,54.50 L249.50,54.50 L249.50,56.50 L250.70,56.50 L250.70,58.60 L252.00,58.60 L252.00,59.50 L253.00,59.50 L253.00,59.71 L254.00,59.71 L254.00,60.40 L255.00,60.40 L255.00,60.80 L256.00,60.80 L256.00,60.80 L257.00,60.80 L257.00,61.14 L258.00,61.14 L258.00,61.40 L259.00,61.40 L259.00,61.58 L260.00,61.58 L260.00,61.60 L261.00,61.60 L261.00,61.58 L262.00,61.58 L262.00,61.40 L263.00,61.40 L263.00,61.71 L264.00,61.71 L264.00,61.80 L265.00,61.80 L265.00,61.69 L266.00,61.69 L266.00,61.60 L267.00,61.60 L267.00,61.50 L268.00,61.50 L268.00,62.00 L269.00,62.00 L269.00,62.48 L270.00,62.48 L270.00,62.60 L271.00,62.60 L271.00,63.35 L272.00,63.35 L272.00,63.80 L273.00,63.80 L273.00,64.40 L274.00,64.40 L274.00,65.00 L275.00,65.00 L275.00,65.52 L276.00,65.52 L276.00,66.00 L277.00,66.00 L277.00,66.70 L278.00,66.70 L278.00,67.20 L279.00,67.20 L279.00,67.44 L280.00,67.44 L280.00,68.20 L281.00,68.20 L281.00,68.84 L282.00,68.84 L282.00,69.20 L283.00,69.20 L283.00,69.55 L284.00,69.55 L284.00,70.20 L285.00,70.20 L285.00,70.34 L286.00,70.34 L286.00,71.00 L287.00,71.00 L287.00,71.16 L288.00,71.16 L288.00,71.60 L289.00,71.60 L289.00,71.84 L290.00,71.84 L290.00,71.80 L291.00,71.80 L291.00,72.42 L292.00,72.42 L292.00,73.40 L293.50,73.40 L293.50,74.80 L294.75,74.80 L294.75,75.14 L296.00,75.14 L296.00,75.20 L297.00,75.20 L297.00,75.69 L298.00,75.69 L298.00,75.60 L299.00,75.60 L299.00,75.90 L300.00,75.90 L300.00,76.20 L301.00,76.20 L301.00,76.23 L302.00,76.23 L302.00,76.40 L303.20,76.40 L303.20,76.49 L304.40,76.49 L304.40,76.60 L304.40,79.60 L306.00,79.60 L306.00,81.20 L347.00,81.20" fill="none" stroke="#2a5590" stroke-width="1.2" stroke-linejoin="round"/>
<circle cx="286.50" cy="47.20" r="1.5" fill="#b0122e"/>
<text x="290.90" y="49.30" font-size="7.0" fill="#2a2a2a" stroke="#2a2a2a" stroke-width="0.12" textLength="12.10" lengthAdjust="spacingAndGlyphs">SILX</text>
<text x="305.30" y="45.90" font-size="3.8" fill="#333" textLength="8.90" lengthAdjust="spacingAndGlyphs">High</text>
<text x="315.80" y="49.30" font-size="7.0" fill="#2a2a2a" stroke="#2a2a2a" stroke-width="0.12" textLength="22.50" lengthAdjust="spacingAndGlyphs">(n = 61)</text>
<circle cx="286.50" cy="54.40" r="1.5" fill="#8e96ad"/>
<text x="290.90" y="56.50" font-size="7.0" fill="#2a2a2a" stroke="#2a2a2a" stroke-width="0.12" textLength="12.10" lengthAdjust="spacingAndGlyphs">SILX</text>
<text x="305.30" y="53.10" font-size="3.8" fill="#333" textLength="8.00" lengthAdjust="spacingAndGlyphs">Med</text>
<text x="315.80" y="56.50" font-size="7.0" fill="#2a2a2a" stroke="#2a2a2a" stroke-width="0.12" textLength="25.00" lengthAdjust="spacingAndGlyphs">(n = 121)</text>
<circle cx="286.50" cy="61.30" r="1.5" fill="#1a2c4e"/>
<text x="290.90" y="63.40" font-size="7.0" fill="#2a2a2a" stroke="#2a2a2a" stroke-width="0.12" textLength="12.10" lengthAdjust="spacingAndGlyphs">SILX</text>
<text x="305.30" y="60.00" font-size="3.8" fill="#333" textLength="7.20" lengthAdjust="spacingAndGlyphs">Low</text>
<text x="315.20" y="63.40" font-size="7.0" fill="#2a2a2a" stroke="#2a2a2a" stroke-width="0.12" textLength="22.40" lengthAdjust="spacingAndGlyphs">(n = 61)</text>
<text x="239.70" y="101.20" font-size="6.6" fill="#2a2a2a" stroke="#2a2a2a" stroke-width="0.12" textLength="34.50" lengthAdjust="spacingAndGlyphs">Comparison</text>
<text x="277.80" y="101.20" font-size="6.6" fill="#2a2a2a" stroke="#2a2a2a" stroke-width="0.12" textLength="19.70" lengthAdjust="spacingAndGlyphs"><tspan font-style="italic">P</tspan> value</text>
<text x="239.70" y="106.90" font-size="5.4" fill="#2a2a2a" textLength="16.00" lengthAdjust="spacingAndGlyphs">Model</text>
<text x="279.10" y="106.90" font-size="5.4" fill="#2a2a2a" textLength="11.70" lengthAdjust="spacingAndGlyphs">.0004</text>
<text x="239.70" y="112.20" font-size="5.4" fill="#2a2a2a" textLength="30.10" lengthAdjust="spacingAndGlyphs">High vs Med</text>
<text x="279.10" y="112.20" font-size="5.4" fill="#2a2a2a" textLength="11.70" lengthAdjust="spacingAndGlyphs">.0004</text>
<text x="239.70" y="117.50" font-size="5.4" fill="#2a2a2a" textLength="29.30" lengthAdjust="spacingAndGlyphs">High vs Low</text>
<text x="279.10" y="117.50" font-size="5.4" fill="#2a2a2a" textLength="11.70" lengthAdjust="spacingAndGlyphs">.0024</text>
<text x="239.70" y="122.80" font-size="5.4" fill="#2a2a2a" textLength="29.30" lengthAdjust="spacingAndGlyphs">Low vs Med</text>
<text x="279.10" y="122.80" font-size="5.4" fill="#2a2a2a" textLength="11.70" lengthAdjust="spacingAndGlyphs">.8707</text>
<text x="369.20" y="16.50" font-size="12.0" fill="#000" font-weight="bold">C</text>
<line x1="468.20" y1="19.00" x2="468.20" y2="87.60" stroke="#d23a4a" stroke-width="0.7" stroke-dasharray="1.2,1.0"/>
<line x1="413.60" y1="64.70" x2="506.50" y2="64.70" stroke="#555" stroke-width="0.7" stroke-dasharray="1.2,1.0"/>
<line x1="442.00" y1="87.60" x2="508.00" y2="87.60" stroke="#231f20" stroke-width="1.1"/>
<line x1="442.80" y1="87.60" x2="442.80" y2="89.80" stroke="#231f20" stroke-width="0.8"/>
<line x1="455.50" y1="87.60" x2="455.50" y2="89.80" stroke="#231f20" stroke-width="0.8"/>
<line x1="468.20" y1="87.60" x2="468.20" y2="89.80" stroke="#231f20" stroke-width="0.8"/>
<line x1="480.90" y1="87.60" x2="480.90" y2="89.80" stroke="#231f20" stroke-width="0.8"/>
<line x1="493.60" y1="87.60" x2="493.60" y2="89.80" stroke="#231f20" stroke-width="0.8"/>
<line x1="506.30" y1="87.60" x2="506.30" y2="89.80" stroke="#231f20" stroke-width="0.8"/>
<text x="452.60" y="24.90" font-size="5.5" fill="#333" stroke="#333" stroke-width="0.08" text-anchor="end" textLength="37.50" lengthAdjust="spacingAndGlyphs">ST2 (reference)</text>
<circle cx="468.20" cy="23.00" r="1.5" fill="#1f3f33"/>
<text x="452.60" y="30.80" font-size="5.5" fill="#333" stroke="#333" stroke-width="0.08" text-anchor="end">A53</text>
<line x1="464.00" y1="28.90" x2="492.50" y2="28.90" stroke="#3f9a70" stroke-width="0.8"/>
<circle cx="478.10" cy="28.90" r="1.6" fill="#1f5a40"/>
<text x="452.60" y="37.00" font-size="5.5" fill="#333" stroke="#333" stroke-width="0.08" text-anchor="end">BN2</text>
<line x1="464.00" y1="35.10" x2="490.80" y2="35.10" stroke="#3f9a70" stroke-width="0.8"/>
<circle cx="477.30" cy="35.10" r="1.6" fill="#1f5a40"/>
<text x="452.60" y="43.10" font-size="5.5" fill="#333" stroke="#333" stroke-width="0.08" text-anchor="end">EZB</text>
<line x1="464.00" y1="41.20" x2="490.50" y2="41.20" stroke="#3f9a70" stroke-width="0.8"/>
<circle cx="477.30" cy="41.20" r="1.6" fill="#1f5a40"/>
<text x="452.60" y="49.20" font-size="5.5" fill="#333" stroke="#333" stroke-width="0.08" text-anchor="end">MCD</text>
<line x1="472.00" y1="47.30" x2="498.80" y2="47.30" stroke="#d2334f" stroke-width="0.8"/>
<circle cx="485.10" cy="47.30" r="1.6" fill="#8a1426"/>
<text x="506.20" y="51.20" font-size="6.6" fill="#333">*</text>
<text x="452.60" y="55.40" font-size="5.5" fill="#333" stroke="#333" stroke-width="0.08" text-anchor="end">N1</text>
<line x1="472.00" y1="53.50" x2="503.00" y2="53.50" stroke="#d2334f" stroke-width="0.8"/>
<circle cx="487.80" cy="53.50" r="1.6" fill="#8a1426"/>
<text x="506.20" y="57.40" font-size="6.6" fill="#333">*</text>
<text x="452.60" y="61.50" font-size="5.5" fill="#333" stroke="#333" stroke-width="0.08" text-anchor="end">Other</text>
<line x1="465.40" y1="59.60" x2="490.80" y2="59.60" stroke="#3f9a70" stroke-width="0.8"/>
<circle cx="478.10" cy="59.60" r="1.6" fill="#1f5a40"/>
<circle cx="468.20" cy="70.40" r="1.5" fill="#1f3f33"/>
<line x1="467.00" y1="77.60" x2="476.00" y2="77.60" stroke="#3f9a70" stroke-width="0.8"/>
<circle cx="471.30" cy="77.60" r="1.6" fill="#1f5a40"/>
<line x1="470.30" y1="84.00" x2="479.80" y2="84.00" stroke="#d2334f" stroke-width="0.8"/>
<circle cx="475.20" cy="84.00" r="1.6" fill="#8a1426"/>
<text x="484.00" y="87.90" font-size="6.6" fill="#333">*</text>
<text x="381.00" y="23.70" font-size="6.6" fill="#111" font-weight="bold" textLength="32.00" lengthAdjust="spacingAndGlyphs">LymphGen</text>
<text x="386.00" y="73.20" font-size="7.0" fill="#111" font-weight="bold" textLength="13.40" lengthAdjust="spacingAndGlyphs">SILX</text>
<text x="453.40" y="72.30" font-size="5.5" fill="#333" stroke="#333" stroke-width="0.08" text-anchor="end">SILX<tspan font-size="3.03" dy="-1.8"> Low</tspan><tspan dy="1.8"> (reference)</tspan></text>
<text x="452.00" y="79.50" font-size="5.5" fill="#333" stroke="#333" stroke-width="0.08" text-anchor="end">SILX<tspan font-size="3.03" dy="-1.8"> Med</tspan><tspan dy="1.8"></tspan></text>
<text x="452.00" y="85.90" font-size="5.5" fill="#333" stroke="#333" stroke-width="0.08" text-anchor="end">SILX<tspan font-size="3.03" dy="-1.8"> High</tspan><tspan dy="1.8"></tspan></text>
<text x="440.30" y="98.20" font-size="7.8" fill="#2a2a2a" stroke="#2a2a2a" stroke-width="0.12" text-anchor="middle" textLength="12.60" lengthAdjust="spacingAndGlyphs">−4.0</text>
<text x="453.00" y="98.20" font-size="7.8" fill="#2a2a2a" stroke="#2a2a2a" stroke-width="0.12" text-anchor="middle" textLength="12.60" lengthAdjust="spacingAndGlyphs">−2.0</text>
<text x="468.20" y="98.20" font-size="7.8" fill="#2a2a2a" stroke="#2a2a2a" stroke-width="0.12" text-anchor="middle" textLength="8.20" lengthAdjust="spacingAndGlyphs">0.0</text>
<text x="480.90" y="98.20" font-size="7.8" fill="#2a2a2a" stroke="#2a2a2a" stroke-width="0.12" text-anchor="middle" textLength="8.20" lengthAdjust="spacingAndGlyphs">2.0</text>
<text x="493.60" y="98.20" font-size="7.8" fill="#2a2a2a" stroke="#2a2a2a" stroke-width="0.12" text-anchor="middle" textLength="8.20" lengthAdjust="spacingAndGlyphs">4.0</text>
<text x="506.30" y="98.20" font-size="7.8" fill="#2a2a2a" stroke="#2a2a2a" stroke-width="0.12" text-anchor="middle" textLength="8.20" lengthAdjust="spacingAndGlyphs">6.0</text>
<text x="471.80" y="111.30" font-size="8.8" fill="#2a2a2a" stroke="#2a2a2a" stroke-width="0.12" text-anchor="middle" textLength="36.40" lengthAdjust="spacingAndGlyphs">OS HR (log2)</text>
<line x1="469.80" y1="115.00" x2="469.80" y2="178.40" stroke="#d23a4a" stroke-width="0.7" stroke-dasharray="1.2,1.0"/>
<line x1="413.80" y1="131.60" x2="505.00" y2="131.60" stroke="#555" stroke-width="0.7" stroke-dasharray="1.2,1.0"/>
<line x1="413.80" y1="156.50" x2="505.00" y2="156.50" stroke="#555" stroke-width="0.7" stroke-dasharray="1.2,1.0"/>
<line x1="444.60" y1="178.40" x2="508.60" y2="178.40" stroke="#231f20" stroke-width="1.1"/>
<line x1="445.80" y1="178.40" x2="445.80" y2="180.60" stroke="#231f20" stroke-width="0.8"/>
<line x1="457.80" y1="178.40" x2="457.80" y2="180.60" stroke="#231f20" stroke-width="0.8"/>
<line x1="469.80" y1="178.40" x2="469.80" y2="180.60" stroke="#231f20" stroke-width="0.8"/>
<line x1="481.80" y1="178.40" x2="481.80" y2="180.60" stroke="#231f20" stroke-width="0.8"/>
<line x1="493.80" y1="178.40" x2="493.80" y2="180.60" stroke="#231f20" stroke-width="0.8"/>
<line x1="505.80" y1="178.40" x2="505.80" y2="180.60" stroke="#231f20" stroke-width="0.8"/>
<text x="453.00" y="122.40" font-size="5.5" fill="#333" stroke="#333" stroke-width="0.08" text-anchor="end" textLength="29.70" lengthAdjust="spacingAndGlyphs">0 (reference)</text>
<circle cx="469.80" cy="120.50" r="1.5" fill="#1f3f33"/>
<text x="453.00" y="128.60" font-size="5.5" fill="#333" stroke="#333" stroke-width="0.08" text-anchor="end">1</text>
<line x1="472.20" y1="126.70" x2="480.40" y2="126.70" stroke="#d2334f" stroke-width="0.8"/>
<circle cx="475.80" cy="126.70" r="1.6" fill="#8a1426"/>
<text x="484.80" y="130.60" font-size="6.6" fill="#333">**</text>
<text x="453.00" y="138.40" font-size="5.5" fill="#333" stroke="#333" stroke-width="0.08" text-anchor="end" textLength="38.50" lengthAdjust="spacingAndGlyphs">GCB (reference)</text>
<circle cx="469.80" cy="136.50" r="1.5" fill="#1f3f33"/>
<text x="453.00" y="146.60" font-size="5.5" fill="#333" stroke="#333" stroke-width="0.08" text-anchor="end">ABC</text>
<line x1="472.40" y1="144.70" x2="480.60" y2="144.70" stroke="#d2334f" stroke-width="0.8"/>
<circle cx="476.20" cy="144.70" r="1.6" fill="#8a1426"/>
<text x="484.80" y="148.60" font-size="6.6" fill="#333">**</text>
<text x="453.00" y="153.10" font-size="5.5" fill="#333" stroke="#333" stroke-width="0.08" text-anchor="end">UNC</text>
<line x1="471.40" y1="151.20" x2="481.60" y2="151.20" stroke="#d2334f" stroke-width="0.8"/>
<circle cx="475.80" cy="151.20" r="1.6" fill="#8a1426"/>
<text x="485.60" y="155.10" font-size="6.6" fill="#333">*</text>
<circle cx="469.80" cy="161.20" r="1.5" fill="#1f3f33"/>
<line x1="468.90" y1="168.00" x2="476.70" y2="168.00" stroke="#3f9a70" stroke-width="0.8"/>
<circle cx="472.60" cy="168.00" r="1.6" fill="#1f5a40"/>
<line x1="471.40" y1="175.00" x2="481.00" y2="175.00" stroke="#d2334f" stroke-width="0.8"/>
<circle cx="475.80" cy="175.00" r="1.6" fill="#8a1426"/>
<text x="485.60" y="178.90" font-size="6.6" fill="#333">*</text>
<text x="387.40" y="122.00" font-size="6.4" fill="#111" font-weight="bold" textLength="18.40" lengthAdjust="spacingAndGlyphs">ECOG</text>
<text x="387.40" y="138.00" font-size="6.4" fill="#111" font-weight="bold" textLength="15.00" lengthAdjust="spacingAndGlyphs">COO</text>
<text x="387.40" y="163.00" font-size="6.4" fill="#111" font-weight="bold" textLength="13.40" lengthAdjust="spacingAndGlyphs">SILX</text>
<text x="453.40" y="163.10" font-size="5.5" fill="#333" stroke="#333" stroke-width="0.08" text-anchor="end">SILX<tspan font-size="3.03" dy="-1.8"> Low</tspan><tspan dy="1.8"> (reference)</tspan></text>
<text x="452.00" y="169.50" font-size="5.5" fill="#333" stroke="#333" stroke-width="0.08" text-anchor="end">SILX<tspan font-size="3.03" dy="-1.8"> Med</tspan><tspan dy="1.8"></tspan></text>
<text x="452.00" y="176.10" font-size="5.5" fill="#333" stroke="#333" stroke-width="0.08" text-anchor="end">SILX<tspan font-size="3.03" dy="-1.8"> High</tspan><tspan dy="1.8"></tspan></text>
<text x="443.30" y="190.20" font-size="7.8" fill="#2a2a2a" stroke="#2a2a2a" stroke-width="0.12" text-anchor="middle" textLength="12.60" lengthAdjust="spacingAndGlyphs">−4.0</text>
<text x="455.30" y="190.20" font-size="7.8" fill="#2a2a2a" stroke="#2a2a2a" stroke-width="0.12" text-anchor="middle" textLength="12.60" lengthAdjust="spacingAndGlyphs">−2.0</text>
<text x="469.80" y="190.20" font-size="7.8" fill="#2a2a2a" stroke="#2a2a2a" stroke-width="0.12" text-anchor="middle" textLength="8.20" lengthAdjust="spacingAndGlyphs">0.0</text>
<text x="481.80" y="190.20" font-size="7.8" fill="#2a2a2a" stroke="#2a2a2a" stroke-width="0.12" text-anchor="middle" textLength="8.20" lengthAdjust="spacingAndGlyphs">2.0</text>
<text x="493.80" y="190.20" font-size="7.8" fill="#2a2a2a" stroke="#2a2a2a" stroke-width="0.12" text-anchor="middle" textLength="8.20" lengthAdjust="spacingAndGlyphs">4.0</text>
<text x="505.80" y="190.20" font-size="7.8" fill="#2a2a2a" stroke="#2a2a2a" stroke-width="0.12" text-anchor="middle" textLength="8.20" lengthAdjust="spacingAndGlyphs">6.0</text>
<text x="471.80" y="200.30" font-size="8.8" fill="#2a2a2a" stroke="#2a2a2a" stroke-width="0.12" text-anchor="middle" textLength="36.40" lengthAdjust="spacingAndGlyphs">OS HR (log2)</text>
<text x="6.60" y="177.70" font-size="12.0" fill="#000" font-weight="bold">D</text>
<path d="M21.30,200.80 C21.30,220.75 21.30,220.75 21.30,240.70 L34.30,240.70 C34.30,220.75 34.30,220.75 34.30,200.80 Z" fill="#5e5e5e" fill-opacity="0.9"/>
<path d="M53.75,200.80 C53.75,220.75 34.30,220.75 34.30,240.70 L51.60,240.70 C51.60,220.75 70.50,220.75 70.50,200.80 Z" fill="#5e5e5e" fill-opacity="0.9"/>
<path d="M108.70,200.80 C108.70,220.75 52.20,220.75 52.20,240.70 L55.60,240.70 C55.60,220.75 111.20,220.75 111.20,200.80 Z" fill="#5e5e5e" fill-opacity="0.9"/>
<path d="M34.30,200.80 C34.30,220.75 63.75,220.75 63.75,240.70 L70.50,240.70 C70.50,220.75 42.80,220.75 42.80,200.80 Z" fill="#8b74c4" fill-opacity="0.8"/>
<path d="M70.50,200.80 C70.50,220.75 70.50,220.75 70.50,240.70 L90.50,240.70 C90.50,220.75 90.50,220.75 90.50,200.80 Z" fill="#8b74c4" fill-opacity="0.8"/>
<path d="M111.20,200.80 C111.20,220.75 90.50,220.75 90.50,240.70 L107.90,240.70 C107.90,220.75 127.70,220.75 127.70,200.80 Z" fill="#8b74c4" fill-opacity="0.8"/>
<path d="M42.80,200.80 C42.80,220.75 116.00,220.75 116.00,240.70 L118.00,240.70 C118.00,220.75 45.90,220.75 45.90,200.80 Z" fill="#c89ad6" fill-opacity="0.8"/>
<path d="M90.50,200.80 C90.50,220.75 118.00,220.75 118.00,240.70 L127.70,240.70 C127.70,220.75 100.60,220.75 100.60,200.80 Z" fill="#c89ad6" fill-opacity="0.8"/>
<path d="M127.70,200.80 C127.70,220.75 127.70,220.75 127.70,240.70 L132.70,240.70 C132.70,220.75 132.70,220.75 132.70,200.80 Z" fill="#c89ad6" fill-opacity="0.8"/>
<rect x="21.60" y="196.30" width="24.00" height="4.20" fill="#cc1535" stroke="#840d22" stroke-width="0.6"/>
<rect x="54.05" y="196.30" width="46.25" height="4.20" fill="#a2acd0" stroke="#696f87" stroke-width="0.6"/>
<rect x="109.00" y="196.30" width="23.40" height="4.20" fill="#1d4c8c" stroke="#12315b" stroke-width="0.6"/>
<rect x="21.60" y="241.00" width="33.70" height="4.70" fill="#111111" stroke="#0b0b0b" stroke-width="0.6"/>
<rect x="64.05" y="241.00" width="43.55" height="4.70" fill="#4a2a8c" stroke="#301b5b" stroke-width="0.6"/>
<rect x="116.30" y="241.00" width="16.10" height="4.70" fill="#8a2f8c" stroke="#591e5b" stroke-width="0.6"/>
<text x="34.00" y="193.60" font-size="7.0" fill="#2a2a2a" stroke="#2a2a2a" stroke-width="0.12" text-anchor="middle" textLength="13.00" lengthAdjust="spacingAndGlyphs">High</text>
<text x="78.10" y="193.60" font-size="7.0" fill="#2a2a2a" stroke="#2a2a2a" stroke-width="0.12" text-anchor="middle" textLength="23.70" lengthAdjust="spacingAndGlyphs">Medium</text>
<text x="120.00" y="193.60" font-size="7.0" fill="#2a2a2a" stroke="#2a2a2a" stroke-width="0.12" text-anchor="middle" textLength="11.00" lengthAdjust="spacingAndGlyphs">Low</text>
<text x="37.50" y="253.60" font-size="7.0" fill="#2a2a2a" stroke="#2a2a2a" stroke-width="0.12" text-anchor="middle" textLength="12.50" lengthAdjust="spacingAndGlyphs">ABC</text>
<text x="85.00" y="253.60" font-size="7.0" fill="#2a2a2a" stroke="#2a2a2a" stroke-width="0.12" text-anchor="middle" textLength="14.00" lengthAdjust="spacingAndGlyphs">GCB</text>
<text x="124.40" y="253.60" font-size="7.0" fill="#2a2a2a" stroke="#2a2a2a" stroke-width="0.12" text-anchor="middle" textLength="13.70" lengthAdjust="spacingAndGlyphs">UNC</text>
<path d="M34.10,298.30 C34.10,318.70 21.70,318.70 21.70,339.10 L23.10,339.10 C23.10,318.70 35.50,318.70 35.50,298.30 Z" fill="#4a4a4a" fill-opacity="0.8"/>
<path d="M58.75,298.30 C58.75,318.70 23.10,318.70 23.10,339.10 L24.70,339.10 C24.70,318.70 60.35,318.70 60.35,298.30 Z" fill="#4a4a4a" fill-opacity="0.8"/>
<path d="M101.90,298.30 C101.90,318.70 24.70,318.70 24.70,339.10 L25.90,339.10 C25.90,318.70 103.10,318.70 103.10,298.30 Z" fill="#4a4a4a" fill-opacity="0.8"/>
<path d="M35.50,298.30 C35.50,318.70 32.20,318.70 32.20,339.10 L39.80,339.10 C39.80,318.70 43.10,318.70 43.10,298.30 Z" fill="#66608e" fill-opacity="0.82"/>
<path d="M60.35,298.30 C60.35,318.70 39.80,318.70 39.80,339.10 L42.80,339.10 C42.80,318.70 63.35,318.70 63.35,298.30 Z" fill="#66608e" fill-opacity="0.82"/>
<path d="M103.10,298.30 C103.10,318.70 42.80,318.70 42.80,339.10 L44.10,339.10 C44.10,318.70 104.40,318.70 104.40,298.30 Z" fill="#66608e" fill-opacity="0.82"/>
<path d="M43.10,298.30 C43.10,318.70 50.90,318.70 50.90,339.10 L54.40,339.10 C54.40,318.70 46.60,318.70 46.60,298.30 Z" fill="#9a82cc" fill-opacity="0.78"/>
<path d="M63.35,298.30 C63.35,318.70 54.40,318.70 54.40,339.10 L65.40,339.10 C65.40,318.70 74.35,318.70 74.35,298.30 Z" fill="#9a82cc" fill-opacity="0.78"/>
<path d="M104.40,298.30 C104.40,318.70 65.40,318.70 65.40,339.10 L68.70,339.10 C68.70,318.70 107.70,318.70 107.70,298.30 Z" fill="#9a82cc" fill-opacity="0.78"/>
<path d="M46.60,298.30 C46.60,318.70 75.10,318.70 75.10,339.10 L76.60,339.10 C76.60,318.70 48.10,318.70 48.10,298.30 Z" fill="#9a70c0" fill-opacity="0.78"/>
<path d="M74.35,298.30 C74.35,318.70 76.60,318.70 76.60,339.10 L81.10,339.10 C81.10,318.70 78.85,318.70 78.85,298.30 Z" fill="#9a70c0" fill-opacity="0.78"/>
<path d="M107.70,298.30 C107.70,318.70 81.10,318.70 81.10,339.10 L82.10,339.10 C82.10,318.70 108.70,318.70 108.70,298.30 Z" fill="#9a70c0" fill-opacity="0.78"/>
<path d="M48.10,298.30 C48.10,318.70 88.20,318.70 88.20,339.10 L88.80,339.10 C88.80,318.70 48.70,318.70 48.70,298.30 Z" fill="#a080b0" fill-opacity="0.78"/>
<path d="M78.85,298.30 C78.85,318.70 88.80,318.70 88.80,339.10 L90.00,339.10 C90.00,318.70 80.05,318.70 80.05,298.30 Z" fill="#a080b0" fill-opacity="0.78"/>
<path d="M108.70,298.30 C108.70,318.70 90.00,318.70 90.00,339.10 L90.50,339.10 C90.50,318.70 109.20,318.70 109.20,298.30 Z" fill="#a080b0" fill-opacity="0.78"/>
<path d="M48.70,298.30 C48.70,318.70 96.20,318.70 96.20,339.10 L99.40,339.10 C99.40,318.70 51.90,318.70 51.90,298.30 Z" fill="#eca2ba" fill-opacity="0.78"/>
<path d="M80.05,298.30 C80.05,318.70 99.40,318.70 99.40,339.10 L112.40,339.10 C112.40,318.70 93.05,318.70 93.05,298.30 Z" fill="#eca2ba" fill-opacity="0.78"/>
<path d="M109.20,298.30 C109.20,318.70 112.40,318.70 112.40,339.10 L121.70,339.10 C121.70,318.70 118.50,318.70 118.50,298.30 Z" fill="#eca2ba" fill-opacity="0.78"/>
<path d="M51.90,298.30 C51.90,318.70 127.90,318.70 127.90,339.10 L128.50,339.10 C128.50,318.70 52.50,318.70 52.50,298.30 Z" fill="#f2b4a4" fill-opacity="0.8"/>
<path d="M93.05,298.30 C93.05,318.70 128.50,318.70 128.50,339.10 L131.05,339.10 C131.05,318.70 95.60,318.70 95.60,298.30 Z" fill="#f2b4a4" fill-opacity="0.8"/>
<path d="M118.50,298.30 C118.50,318.70 131.05,318.70 131.05,339.10 L133.05,339.10 C133.05,318.70 120.50,318.70 120.50,298.30 Z" fill="#f2b4a4" fill-opacity="0.8"/>
<rect x="34.40" y="294.40" width="17.80" height="3.60" fill="#cc1535" stroke="#840d22" stroke-width="0.6"/>
<rect x="59.05" y="294.40" width="36.25" height="3.60" fill="#a2acd0" stroke="#696f87" stroke-width="0.6"/>
<rect x="102.20" y="294.40" width="18.00" height="3.60" fill="#1d4c8c" stroke="#12315b" stroke-width="0.6"/>
<rect x="22.00" y="339.40" width="3.60" height="3.90" fill="#111111" stroke="#0b0b0b" stroke-width="0.6"/>
<rect x="32.50" y="339.40" width="11.70" height="3.90" fill="#2b1b5c" stroke="#1b113b" stroke-width="0.6"/>
<rect x="51.20" y="339.40" width="17.20" height="3.90" fill="#5a2a9a" stroke="#3a1b64" stroke-width="0.6"/>
<rect x="75.40" y="339.40" width="6.40" height="3.90" fill="#6a2a8a" stroke="#441b59" stroke-width="0.6"/>
<rect x="88.50" y="339.40" width="1.70" height="3.90" fill="#7a2a6a" stroke="#4f1b44" stroke-width="0.6"/>
<rect x="96.50" y="339.40" width="24.95" height="3.90" fill="#cc4a7c" stroke="#843050" stroke-width="0.6"/>
<rect x="128.20" y="339.40" width="4.10" height="3.90" fill="#d27064" stroke="#884841" stroke-width="0.6"/>
<text x="43.90" y="291.30" font-size="7.0" fill="#2a2a2a" stroke="#2a2a2a" stroke-width="0.12" text-anchor="middle" textLength="13.70" lengthAdjust="spacingAndGlyphs">High</text>
<text x="78.10" y="291.30" font-size="7.0" fill="#2a2a2a" stroke="#2a2a2a" stroke-width="0.12" text-anchor="middle" textLength="23.70" lengthAdjust="spacingAndGlyphs">Medium</text>
<text x="111.60" y="291.30" font-size="7.0" fill="#2a2a2a" stroke="#2a2a2a" stroke-width="0.12" text-anchor="middle" textLength="11.70" lengthAdjust="spacingAndGlyphs">Low</text>
<text x="24.10" y="351.10" font-size="7.0" fill="#2a2a2a" stroke="#2a2a2a" stroke-width="0.12" text-anchor="middle" textLength="9.20" lengthAdjust="spacingAndGlyphs">A53</text>
<text x="38.70" y="351.10" font-size="7.0" fill="#2a2a2a" stroke="#2a2a2a" stroke-width="0.12" text-anchor="middle" textLength="11.00" lengthAdjust="spacingAndGlyphs">BN2</text>
<text x="60.00" y="351.10" font-size="7.0" fill="#2a2a2a" stroke="#2a2a2a" stroke-width="0.12" text-anchor="middle" textLength="11.00" lengthAdjust="spacingAndGlyphs">EZB</text>
<text x="75.60" y="351.10" font-size="7.0" fill="#2a2a2a" stroke="#2a2a2a" stroke-width="0.12" text-anchor="middle" textLength="13.70" lengthAdjust="spacingAndGlyphs">MCD</text>
<text x="89.10" y="351.10" font-size="7.0" fill="#2a2a2a" stroke="#2a2a2a" stroke-width="0.12" text-anchor="middle" textLength="5.80" lengthAdjust="spacingAndGlyphs">N1</text>
<text x="109.00" y="351.10" font-size="7.0" fill="#2a2a2a" stroke="#2a2a2a" stroke-width="0.12" text-anchor="middle" textLength="17.00" lengthAdjust="spacingAndGlyphs">Other</text>
<text x="128.10" y="351.10" font-size="7.0" fill="#2a2a2a" stroke="#2a2a2a" stroke-width="0.12" text-anchor="middle" textLength="8.80" lengthAdjust="spacingAndGlyphs">ST2</text>
<line x1="175.30" y1="183.00" x2="175.30" y2="227.20" stroke="#231f20" stroke-width="1.1"/>
<line x1="172.70" y1="226.70" x2="236.60" y2="226.70" stroke="#231f20" stroke-width="1.1"/>
<line x1="172.30" y1="186.30" x2="175.30" y2="186.30" stroke="#231f20" stroke-width="0.9"/>
<text x="168.80" y="188.70" font-size="7.0" fill="#2a2a2a" stroke="#2a2a2a" stroke-width="0.12" text-anchor="end">100</text>
<line x1="172.30" y1="196.35" x2="175.30" y2="196.35" stroke="#231f20" stroke-width="0.9"/>
<text x="168.80" y="198.75" font-size="7.0" fill="#2a2a2a" stroke="#2a2a2a" stroke-width="0.12" text-anchor="end">75</text>
<line x1="172.30" y1="206.40" x2="175.30" y2="206.40" stroke="#231f20" stroke-width="0.9"/>
<text x="168.80" y="208.80" font-size="7.0" fill="#2a2a2a" stroke="#2a2a2a" stroke-width="0.12" text-anchor="end">50</text>
<line x1="172.30" y1="216.45" x2="175.30" y2="216.45" stroke="#231f20" stroke-width="0.9"/>
<text x="168.80" y="218.85" font-size="7.0" fill="#2a2a2a" stroke="#2a2a2a" stroke-width="0.12" text-anchor="end">25</text>
<line x1="172.30" y1="226.50" x2="175.30" y2="226.50" stroke="#231f20" stroke-width="0.9"/>
<text x="168.80" y="228.90" font-size="7.0" fill="#2a2a2a" stroke="#2a2a2a" stroke-width="0.12" text-anchor="end">0</text>
<line x1="173.50" y1="191.33" x2="175.30" y2="191.33" stroke="#231f20" stroke-width="0.7"/>
<line x1="173.50" y1="201.38" x2="175.30" y2="201.38" stroke="#231f20" stroke-width="0.7"/>
<line x1="173.50" y1="211.43" x2="175.30" y2="211.43" stroke="#231f20" stroke-width="0.7"/>
<line x1="173.50" y1="221.47" x2="175.30" y2="221.47" stroke="#231f20" stroke-width="0.7"/>
<line x1="179.20" y1="226.70" x2="179.20" y2="229.30" stroke="#231f20" stroke-width="0.9"/>
<text x="179.20" y="238.90" font-size="7.0" fill="#2a2a2a" stroke="#2a2a2a" stroke-width="0.12" text-anchor="middle">0</text>
<line x1="194.20" y1="226.70" x2="194.20" y2="229.30" stroke="#231f20" stroke-width="0.9"/>
<text x="194.20" y="238.90" font-size="7.0" fill="#2a2a2a" stroke="#2a2a2a" stroke-width="0.12" text-anchor="middle">4</text>
<line x1="209.30" y1="226.70" x2="209.30" y2="229.30" stroke="#231f20" stroke-width="0.9"/>
<text x="209.30" y="238.90" font-size="7.0" fill="#2a2a2a" stroke="#2a2a2a" stroke-width="0.12" text-anchor="middle">8</text>
<line x1="224.50" y1="226.70" x2="224.50" y2="229.30" stroke="#231f20" stroke-width="0.9"/>
<text x="224.50" y="238.90" font-size="7.0" fill="#2a2a2a" stroke="#2a2a2a" stroke-width="0.12" text-anchor="middle">12</text>
<line x1="186.70" y1="226.70" x2="186.70" y2="228.00" stroke="#231f20" stroke-width="0.6"/>
<line x1="201.75" y1="226.70" x2="201.75" y2="228.00" stroke="#231f20" stroke-width="0.6"/>
<line x1="216.90" y1="226.70" x2="216.90" y2="228.00" stroke="#231f20" stroke-width="0.6"/>
<text x="152.40" y="204.85" font-size="7.9" fill="#2a2a2a" stroke="#2a2a2a" stroke-width="0.12" text-anchor="middle" textLength="46.00" lengthAdjust="spacingAndGlyphs" transform="rotate(-90 152.40 204.85)">Percent survival</text>
<text x="206.60" y="249.90" font-size="8.4" fill="#2a2a2a" stroke="#2a2a2a" stroke-width="0.12" text-anchor="middle" textLength="83.60" lengthAdjust="spacingAndGlyphs">Time from treatment (years)</text>
<text x="206.20" y="181.60" font-size="9.0" fill="#222" stroke="#222" stroke-width="0.12" text-anchor="middle" font-style="italic" textLength="18.50" lengthAdjust="spacingAndGlyphs">ABC</text>
<path d="M179.40,186.80 L180.20,190.00 L181.20,195.00 L182.20,200.00 L183.50,203.20 L184.80,205.40 L186.80,205.80 L186.80,209.00 L194.20,209.00 L194.20,213.00 L203.00,213.00 L203.00,217.00 L219.80,217.00" fill="none" stroke="#c8193c" stroke-width="1.2" stroke-linejoin="round"/>
<path d="M179.40,186.80 L181.00,190.00 L182.50,194.00 L184.80,198.20 L188.00,199.40 L191.00,201.20 L194.20,203.40 L198.00,204.40 L202.00,205.00 L206.00,205.80 L210.40,206.80 L227.20,206.80" fill="none" stroke="#2a5590" stroke-width="1.2" stroke-linejoin="round"/>
<path d="M179.40,186.80 L181.00,189.00 L183.00,193.00 L185.00,197.00 L188.00,198.60 L191.00,200.00 L194.00,202.00 L198.00,203.00 L202.00,203.60 L210.00,204.40 L227.90,204.40" fill="none" stroke="#9cc3e2" stroke-width="1.0" stroke-linejoin="round"/>
<path d="M179.40,186.80 L182.00,192.00 L184.50,198.00 L186.80,206.20 L200.30,206.20 L200.30,212.40 L209.70,212.40 L209.70,216.60" fill="none" stroke="#8a9ab8" stroke-width="1.0" stroke-linejoin="round"/>
<text x="176.80" y="220.20" font-size="7.0" fill="#2a2a2a" stroke="#2a2a2a" stroke-width="0.12" textLength="22.50" lengthAdjust="spacingAndGlyphs"><tspan font-style="italic">P</tspan> value</text>
<text x="176.80" y="226.00" font-size="7.0" fill="#2a2a2a" stroke="#2a2a2a" stroke-width="0.12" textLength="15.00" lengthAdjust="spacingAndGlyphs">.0055</text>
<line x1="279.90" y1="182.60" x2="279.90" y2="227.30" stroke="#231f20" stroke-width="1.1"/>
<line x1="277.30" y1="226.80" x2="341.60" y2="226.80" stroke="#231f20" stroke-width="1.1"/>
<line x1="276.90" y1="185.90" x2="279.90" y2="185.90" stroke="#231f20" stroke-width="0.9"/>
<text x="274.20" y="188.30" font-size="7.0" fill="#2a2a2a" stroke="#2a2a2a" stroke-width="0.12" text-anchor="end">100</text>
<line x1="276.90" y1="196.10" x2="279.90" y2="196.10" stroke="#231f20" stroke-width="0.9"/>
<text x="274.20" y="198.50" font-size="7.0" fill="#2a2a2a" stroke="#2a2a2a" stroke-width="0.12" text-anchor="end">75</text>
<line x1="276.90" y1="206.30" x2="279.90" y2="206.30" stroke="#231f20" stroke-width="0.9"/>
<text x="274.20" y="208.70" font-size="7.0" fill="#2a2a2a" stroke="#2a2a2a" stroke-width="0.12" text-anchor="end">50</text>
<line x1="276.90" y1="216.50" x2="279.90" y2="216.50" stroke="#231f20" stroke-width="0.9"/>
<text x="274.20" y="218.90" font-size="7.0" fill="#2a2a2a" stroke="#2a2a2a" stroke-width="0.12" text-anchor="end">25</text>
<line x1="276.90" y1="226.70" x2="279.90" y2="226.70" stroke="#231f20" stroke-width="0.9"/>
<text x="274.20" y="229.10" font-size="7.0" fill="#2a2a2a" stroke="#2a2a2a" stroke-width="0.12" text-anchor="end">0</text>
<line x1="278.10" y1="191.00" x2="279.90" y2="191.00" stroke="#231f20" stroke-width="0.7"/>
<line x1="278.10" y1="201.20" x2="279.90" y2="201.20" stroke="#231f20" stroke-width="0.7"/>
<line x1="278.10" y1="211.40" x2="279.90" y2="211.40" stroke="#231f20" stroke-width="0.7"/>
<line x1="278.10" y1="221.60" x2="279.90" y2="221.60" stroke="#231f20" stroke-width="0.7"/>
<line x1="283.70" y1="226.80" x2="283.70" y2="229.40" stroke="#231f20" stroke-width="0.9"/>
<text x="283.70" y="238.90" font-size="7.0" fill="#2a2a2a" stroke="#2a2a2a" stroke-width="0.12" text-anchor="middle">0</text>
<line x1="295.90" y1="226.80" x2="295.90" y2="229.40" stroke="#231f20" stroke-width="0.9"/>
<text x="295.90" y="238.90" font-size="7.0" fill="#2a2a2a" stroke="#2a2a2a" stroke-width="0.12" text-anchor="middle">4</text>
<line x1="308.10" y1="226.80" x2="308.10" y2="229.40" stroke="#231f20" stroke-width="0.9"/>
<text x="308.10" y="238.90" font-size="7.0" fill="#2a2a2a" stroke="#2a2a2a" stroke-width="0.12" text-anchor="middle">8</text>
<line x1="320.30" y1="226.80" x2="320.30" y2="229.40" stroke="#231f20" stroke-width="0.9"/>
<text x="320.30" y="238.90" font-size="7.0" fill="#2a2a2a" stroke="#2a2a2a" stroke-width="0.12" text-anchor="middle">12</text>
<line x1="332.60" y1="226.80" x2="332.60" y2="229.40" stroke="#231f20" stroke-width="0.9"/>
<text x="332.60" y="238.90" font-size="7.0" fill="#2a2a2a" stroke="#2a2a2a" stroke-width="0.12" text-anchor="middle">16</text>
<line x1="289.80" y1="226.80" x2="289.80" y2="228.10" stroke="#231f20" stroke-width="0.6"/>
<line x1="302.00" y1="226.80" x2="302.00" y2="228.10" stroke="#231f20" stroke-width="0.6"/>
<line x1="314.20" y1="226.80" x2="314.20" y2="228.10" stroke="#231f20" stroke-width="0.6"/>
<line x1="326.45" y1="226.80" x2="326.45" y2="228.10" stroke="#231f20" stroke-width="0.6"/>
<text x="257.80" y="204.70" font-size="7.9" fill="#2a2a2a" stroke="#2a2a2a" stroke-width="0.12" text-anchor="middle" textLength="46.00" lengthAdjust="spacingAndGlyphs" transform="rotate(-90 257.80 204.70)">Percent survival</text>
<text x="311.20" y="249.90" font-size="8.4" fill="#2a2a2a" stroke="#2a2a2a" stroke-width="0.12" text-anchor="middle" textLength="83.40" lengthAdjust="spacingAndGlyphs">Time from treatment (years)</text>
<text x="312.30" y="180.90" font-size="9.0" fill="#222" stroke="#222" stroke-width="0.12" text-anchor="middle" font-style="italic" textLength="18.50" lengthAdjust="spacingAndGlyphs">GCB</text>
<path d="M283.40,186.10 L285.00,188.50 L286.30,191.00 L288.10,197.30 L302.50,197.30 L302.50,200.80 L308.80,200.80 L308.80,204.80 L315.80,204.80 L315.80,212.30 L325.60,212.30" fill="none" stroke="#c8193c" stroke-width="1.2" stroke-linejoin="round"/>
<path d="M283.40,186.10 L284.50,186.10 L284.50,187.50 L285.70,187.50 L285.70,188.80 L286.90,188.80 L286.90,189.80 L289.00,189.80 L289.00,190.60 L291.50,190.60 L291.50,191.50 L294.50,191.50 L294.50,191.80 L297.30,191.80 L297.30,192.10 L300.00,192.10 L300.00,193.00 L303.10,193.00 L303.10,193.80 L306.00,193.80 L306.00,194.70 L308.80,194.70 L308.80,195.60 L312.30,195.60 L312.30,197.30 L313.50,197.30 L313.50,199.30 L314.60,199.30 L314.60,201.30 L316.90,201.30 L316.90,202.50 L333.60,202.50 L333.60,202.50" fill="none" stroke="#2a5590" stroke-width="1.2" stroke-linejoin="round"/>
<path d="M283.40,186.10 L286.00,188.50 L290.00,190.50 L295.00,191.50 L300.00,192.20 L303.10,192.70 L308.00,194.20 L312.00,196.00 L314.60,199.50 L316.90,202.00 L333.60,202.00" fill="none" stroke="#9cc3e2" stroke-width="1.0" stroke-linejoin="round"/>
<path d="M283.40,186.10 L285.00,186.10 L285.00,188.20 L287.00,188.20 L287.00,190.00 L290.00,190.00 L290.00,191.60 L294.00,191.60 L294.00,192.60 L297.30,192.60 L297.30,193.80 L302.00,193.80 L302.00,195.20 L306.50,195.20 L306.50,196.70 L310.00,196.70 L310.00,197.80 L313.40,197.80 L313.40,199.00 L315.00,199.00 L315.00,201.40 L317.00,201.40 L317.00,202.80 L330.00,202.80 L330.00,202.80" fill="none" stroke="#8a9ab8" stroke-width="1.0" stroke-linejoin="round"/>
<text x="283.40" y="219.60" font-size="7.0" fill="#2a2a2a" stroke="#2a2a2a" stroke-width="0.12" textLength="22.50" lengthAdjust="spacingAndGlyphs"><tspan font-style="italic">P</tspan> value</text>
<text x="283.40" y="225.60" font-size="7.0" fill="#2a2a2a" stroke="#2a2a2a" stroke-width="0.12" textLength="15.00" lengthAdjust="spacingAndGlyphs">.0664</text>
<circle cx="221.50" cy="261.00" r="1.4" fill="#b0122e"/>
<text x="225.70" y="263.80" font-size="6.8" fill="#333" stroke="#333" stroke-width="0.12" textLength="13.10" lengthAdjust="spacingAndGlyphs">SILX</text>
<text x="240.00" y="259.80" font-size="3.6" fill="#333" textLength="9.40" lengthAdjust="spacingAndGlyphs">High</text>
<circle cx="254.30" cy="261.00" r="1.4" fill="#1a2c4e"/>
<text x="258.90" y="263.80" font-size="6.8" fill="#333" stroke="#333" stroke-width="0.12" textLength="13.40" lengthAdjust="spacingAndGlyphs">SILX</text>
<text x="274.60" y="260.20" font-size="3.6" fill="#333" textLength="27.00" lengthAdjust="spacingAndGlyphs">• Low + • Med</text>
<line x1="175.00" y1="287.00" x2="175.00" y2="338.40" stroke="#231f20" stroke-width="1.1"/>
<line x1="172.40" y1="337.90" x2="236.00" y2="337.90" stroke="#231f20" stroke-width="1.1"/>
<line x1="172.00" y1="292.10" x2="175.00" y2="292.10" stroke="#231f20" stroke-width="0.9"/>
<text x="168.80" y="294.50" font-size="7.0" fill="#2a2a2a" stroke="#2a2a2a" stroke-width="0.12" text-anchor="end">100</text>
<line x1="172.00" y1="303.55" x2="175.00" y2="303.55" stroke="#231f20" stroke-width="0.9"/>
<text x="168.80" y="305.95" font-size="7.0" fill="#2a2a2a" stroke="#2a2a2a" stroke-width="0.12" text-anchor="end">75</text>
<line x1="172.00" y1="315.00" x2="175.00" y2="315.00" stroke="#231f20" stroke-width="0.9"/>
<text x="168.80" y="317.40" font-size="7.0" fill="#2a2a2a" stroke="#2a2a2a" stroke-width="0.12" text-anchor="end">50</text>
<line x1="172.00" y1="326.45" x2="175.00" y2="326.45" stroke="#231f20" stroke-width="0.9"/>
<text x="168.80" y="328.85" font-size="7.0" fill="#2a2a2a" stroke="#2a2a2a" stroke-width="0.12" text-anchor="end">25</text>
<line x1="172.00" y1="337.90" x2="175.00" y2="337.90" stroke="#231f20" stroke-width="0.9"/>
<text x="168.80" y="340.30" font-size="7.0" fill="#2a2a2a" stroke="#2a2a2a" stroke-width="0.12" text-anchor="end">0</text>
<line x1="173.20" y1="297.83" x2="175.00" y2="297.83" stroke="#231f20" stroke-width="0.7"/>
<line x1="173.20" y1="309.27" x2="175.00" y2="309.27" stroke="#231f20" stroke-width="0.7"/>
<line x1="173.20" y1="320.73" x2="175.00" y2="320.73" stroke="#231f20" stroke-width="0.7"/>
<line x1="173.20" y1="332.17" x2="175.00" y2="332.17" stroke="#231f20" stroke-width="0.7"/>
<line x1="179.30" y1="337.90" x2="179.30" y2="340.50" stroke="#231f20" stroke-width="0.9"/>
<text x="179.30" y="350.00" font-size="7.0" fill="#2a2a2a" stroke="#2a2a2a" stroke-width="0.12" text-anchor="middle">0</text>
<line x1="194.90" y1="337.90" x2="194.90" y2="340.50" stroke="#231f20" stroke-width="0.9"/>
<text x="194.90" y="350.00" font-size="7.0" fill="#2a2a2a" stroke="#2a2a2a" stroke-width="0.12" text-anchor="middle">4</text>
<line x1="210.40" y1="337.90" x2="210.40" y2="340.50" stroke="#231f20" stroke-width="0.9"/>
<text x="210.40" y="350.00" font-size="7.0" fill="#2a2a2a" stroke="#2a2a2a" stroke-width="0.12" text-anchor="middle">8</text>
<line x1="225.90" y1="337.90" x2="225.90" y2="340.50" stroke="#231f20" stroke-width="0.9"/>
<text x="225.90" y="350.00" font-size="7.0" fill="#2a2a2a" stroke="#2a2a2a" stroke-width="0.12" text-anchor="middle">12</text>
<line x1="187.10" y1="337.90" x2="187.10" y2="339.20" stroke="#231f20" stroke-width="0.6"/>
<line x1="202.65" y1="337.90" x2="202.65" y2="339.20" stroke="#231f20" stroke-width="0.6"/>
<line x1="218.15" y1="337.90" x2="218.15" y2="339.20" stroke="#231f20" stroke-width="0.6"/>
<text x="152.60" y="312.45" font-size="7.9" fill="#2a2a2a" stroke="#2a2a2a" stroke-width="0.12" text-anchor="middle" textLength="47.00" lengthAdjust="spacingAndGlyphs" transform="rotate(-90 152.60 312.45)">Percent survival</text>
<text x="205.80" y="360.40" font-size="8.4" fill="#2a2a2a" stroke="#2a2a2a" stroke-width="0.12" text-anchor="middle" textLength="83.60" lengthAdjust="spacingAndGlyphs">Time from treatment (years)</text>
<text x="205.80" y="284.40" font-size="9.0" fill="#222" stroke="#222" stroke-width="0.12" text-anchor="middle" font-style="italic" textLength="31.00" lengthAdjust="spacingAndGlyphs">MCD-N1</text>
<path d="M179.40,291.70 L181.40,291.70 L181.40,297.00 L182.00,297.00 L182.00,303.00 L183.50,303.00 L183.50,318.60 L187.50,318.60 L187.50,321.10 L197.60,321.10 L197.60,324.40 L203.60,324.40 L203.60,331.40 L219.80,331.40 L219.80,331.40" fill="none" stroke="#c8193c" stroke-width="1.2" stroke-linejoin="round"/>
<path d="M179.40,291.70 L182.80,291.70 L182.80,291.70 L182.80,291.70 L182.80,303.20 L201.00,303.20 L201.00,303.20 L201.00,303.20 L201.00,319.30 L210.40,319.30 L210.40,319.30 L210.40,319.30 L210.40,336.80" fill="none" stroke="#8a9ab8" stroke-width="1.0" stroke-linejoin="round"/>
<path d="M179.40,291.70 L181.50,291.70 L181.50,297.00 L183.50,297.00 L183.50,307.90 L191.50,307.90 L191.50,313.30 L201.00,313.30 L201.00,319.30 L210.40,319.30 L210.40,325.10 L221.80,325.10 L221.80,325.10" fill="none" stroke="#2a5590" stroke-width="1.2" stroke-linejoin="round"/>
<path d="M179.40,291.70 L182.00,291.70 L182.00,300.00 L184.10,300.00 L184.10,309.90 L191.50,309.90 L191.50,317.30 L223.80,317.30 L223.80,317.30" fill="none" stroke="#9cc3e2" stroke-width="1.0" stroke-linejoin="round"/>
<text x="176.80" y="329.80" font-size="7.0" fill="#2a2a2a" stroke="#2a2a2a" stroke-width="0.12" textLength="22.50" lengthAdjust="spacingAndGlyphs"><tspan font-style="italic">P</tspan> value</text>
<text x="176.80" y="336.20" font-size="7.0" fill="#2a2a2a" stroke="#2a2a2a" stroke-width="0.12" textLength="15.00" lengthAdjust="spacingAndGlyphs">.1504</text>
<line x1="281.10" y1="287.00" x2="281.10" y2="338.00" stroke="#231f20" stroke-width="1.1"/>
<line x1="278.50" y1="337.50" x2="342.30" y2="337.50" stroke="#231f20" stroke-width="1.1"/>
<line x1="278.10" y1="291.80" x2="281.10" y2="291.80" stroke="#231f20" stroke-width="0.9"/>
<text x="274.50" y="294.20" font-size="7.0" fill="#2a2a2a" stroke="#2a2a2a" stroke-width="0.12" text-anchor="end">100</text>
<line x1="278.10" y1="303.23" x2="281.10" y2="303.23" stroke="#231f20" stroke-width="0.9"/>
<text x="274.50" y="305.62" font-size="7.0" fill="#2a2a2a" stroke="#2a2a2a" stroke-width="0.12" text-anchor="end">75</text>
<line x1="278.10" y1="314.65" x2="281.10" y2="314.65" stroke="#231f20" stroke-width="0.9"/>
<text x="274.50" y="317.05" font-size="7.0" fill="#2a2a2a" stroke="#2a2a2a" stroke-width="0.12" text-anchor="end">50</text>
<line x1="278.10" y1="326.07" x2="281.10" y2="326.07" stroke="#231f20" stroke-width="0.9"/>
<text x="274.50" y="328.47" font-size="7.0" fill="#2a2a2a" stroke="#2a2a2a" stroke-width="0.12" text-anchor="end">25</text>
<line x1="278.10" y1="337.50" x2="281.10" y2="337.50" stroke="#231f20" stroke-width="0.9"/>
<text x="274.50" y="339.90" font-size="7.0" fill="#2a2a2a" stroke="#2a2a2a" stroke-width="0.12" text-anchor="end">0</text>
<line x1="279.30" y1="297.51" x2="281.10" y2="297.51" stroke="#231f20" stroke-width="0.7"/>
<line x1="279.30" y1="308.94" x2="281.10" y2="308.94" stroke="#231f20" stroke-width="0.7"/>
<line x1="279.30" y1="320.36" x2="281.10" y2="320.36" stroke="#231f20" stroke-width="0.7"/>
<line x1="279.30" y1="331.79" x2="281.10" y2="331.79" stroke="#231f20" stroke-width="0.7"/>
<line x1="284.40" y1="337.50" x2="284.40" y2="340.10" stroke="#231f20" stroke-width="0.9"/>
<text x="284.40" y="350.00" font-size="7.0" fill="#2a2a2a" stroke="#2a2a2a" stroke-width="0.12" text-anchor="middle">0</text>
<line x1="300.00" y1="337.50" x2="300.00" y2="340.10" stroke="#231f20" stroke-width="0.9"/>
<text x="300.00" y="350.00" font-size="7.0" fill="#2a2a2a" stroke="#2a2a2a" stroke-width="0.12" text-anchor="middle">4</text>
<line x1="315.60" y1="337.50" x2="315.60" y2="340.10" stroke="#231f20" stroke-width="0.9"/>
<text x="315.60" y="350.00" font-size="7.0" fill="#2a2a2a" stroke="#2a2a2a" stroke-width="0.12" text-anchor="middle">8</text>
<line x1="331.30" y1="337.50" x2="331.30" y2="340.10" stroke="#231f20" stroke-width="0.9"/>
<text x="331.30" y="350.00" font-size="7.0" fill="#2a2a2a" stroke="#2a2a2a" stroke-width="0.12" text-anchor="middle">12</text>
<line x1="292.20" y1="337.50" x2="292.20" y2="338.80" stroke="#231f20" stroke-width="0.6"/>
<line x1="307.80" y1="337.50" x2="307.80" y2="338.80" stroke="#231f20" stroke-width="0.6"/>
<line x1="323.45" y1="337.50" x2="323.45" y2="338.80" stroke="#231f20" stroke-width="0.6"/>
<text x="258.20" y="312.25" font-size="7.9" fill="#2a2a2a" stroke="#2a2a2a" stroke-width="0.12" text-anchor="middle" textLength="47.00" lengthAdjust="spacingAndGlyphs" transform="rotate(-90 258.20 312.25)">Percent survival</text>
<text x="312.30" y="360.40" font-size="8.4" fill="#2a2a2a" stroke="#2a2a2a" stroke-width="0.12" text-anchor="middle" textLength="84.20" lengthAdjust="spacingAndGlyphs">Time from treatment (years)</text>
<text x="310.00" y="284.40" font-size="9.0" fill="#222" stroke="#222" stroke-width="0.12" text-anchor="middle" font-style="italic" textLength="69.00" lengthAdjust="spacingAndGlyphs">ST2-EZB-A53-BN2</text>
<path d="M284.60,292.20 L286.00,292.20 L286.00,296.00 L288.00,296.00 L288.00,300.00 L290.40,300.00 L290.40,306.50 L292.70,306.50 L292.70,311.20 L307.70,311.20 L307.70,315.80 L325.70,315.80 L325.70,323.20 L337.70,323.20 L337.70,323.20" fill="none" stroke="#c8193c" stroke-width="1.2" stroke-linejoin="round"/>
<path d="M284.60,292.20 L286.00,295.00 L288.00,298.00 L290.40,300.80 L295.00,301.20 L300.00,302.50 L305.00,304.50 L310.00,306.00 L315.00,307.50 L320.00,308.50 L323.80,310.00 L323.80,312.80 L333.00,312.80" fill="none" stroke="#2a5590" stroke-width="1.2" stroke-linejoin="round"/>
<path d="M284.60,292.20 L286.00,294.00 L288.00,296.50 L291.00,298.50 L296.00,300.00 L302.00,302.00 L308.00,304.50 L314.00,306.50 L320.00,308.50 L324.00,311.50 L333.00,312.00" fill="none" stroke="#9cc3e2" stroke-width="1.0" stroke-linejoin="round"/>
<text x="282.60" y="329.80" font-size="7.0" fill="#2a2a2a" stroke="#2a2a2a" stroke-width="0.12" textLength="22.50" lengthAdjust="spacingAndGlyphs"><tspan font-style="italic">P</tspan> value</text>
<text x="282.60" y="336.20" font-size="7.0" fill="#2a2a2a" stroke="#2a2a2a" stroke-width="0.12" textLength="15.00" lengthAdjust="spacingAndGlyphs">.0169</text>
<text x="364.30" y="215.90" font-size="12.0" fill="#000" font-weight="bold">E</text>
<rect x="415.10" y="221.20" width="48.80" height="25.70" fill="#e8e8ea"/>
<rect x="415.10" y="249.90" width="48.80" height="50.10" fill="#e8e8ea"/>
<rect x="415.10" y="302.70" width="48.80" height="40.30" fill="#e8e8ea"/>
<rect x="398.00" y="221.20" width="5.85" height="6.58" fill="#1e7a3a"/>
<rect x="403.70" y="221.20" width="5.85" height="6.58" fill="#d0ecd0"/>
<rect x="409.40" y="221.20" width="5.85" height="6.58" fill="#eaf5ea"/>
<rect x="398.00" y="227.62" width="5.85" height="6.58" fill="#8ccc94"/>
<rect x="403.70" y="227.62" width="5.85" height="6.58" fill="#5aaa68"/>
<rect x="409.40" y="227.62" width="5.85" height="6.58" fill="#c4e6c4"/>
<rect x="398.00" y="234.05" width="5.85" height="6.58" fill="#dcefdf"/>
<rect x="403.70" y="234.05" width="5.85" height="6.58" fill="#a2d5a6"/>
<rect x="409.40" y="234.05" width="5.85" height="6.58" fill="#58a868"/>
<rect x="398.00" y="240.47" width="5.85" height="6.58" fill="#e2f1e5"/>
<rect x="403.70" y="240.47" width="5.85" height="6.58" fill="#72b97e"/>
<rect x="409.40" y="240.47" width="5.85" height="6.58" fill="#60ac6c"/>
<rect x="398.00" y="249.90" width="5.85" height="5.72" fill="#f4a48c"/>
<rect x="403.70" y="249.90" width="5.85" height="5.72" fill="#f4a890"/>
<rect x="409.40" y="249.90" width="5.85" height="5.72" fill="#fde0d8"/>
<rect x="398.00" y="255.47" width="5.85" height="5.72" fill="#fde4dc"/>
<rect x="403.70" y="255.47" width="5.85" height="5.72" fill="#fde8e0"/>
<rect x="409.40" y="255.47" width="5.85" height="5.72" fill="#fdf0ec"/>
<rect x="398.00" y="261.03" width="5.85" height="5.72" fill="#d42a2a"/>
<rect x="403.70" y="261.03" width="5.85" height="5.72" fill="#f8b8a8"/>
<rect x="409.40" y="261.03" width="5.85" height="5.72" fill="#fde8e0"/>
<rect x="398.00" y="266.60" width="5.85" height="5.72" fill="#fcd8cc"/>
<rect x="403.70" y="266.60" width="5.85" height="5.72" fill="#fcd0c4"/>
<rect x="409.40" y="266.60" width="5.85" height="5.72" fill="#fde8e0"/>
<rect x="398.00" y="272.17" width="5.85" height="5.72" fill="#fde4dc"/>
<rect x="403.70" y="272.17" width="5.85" height="5.72" fill="#fde4dc"/>
<rect x="409.40" y="272.17" width="5.85" height="5.72" fill="#fdece8"/>
<rect x="398.00" y="277.73" width="5.85" height="5.72" fill="#fde4dc"/>
<rect x="403.70" y="277.73" width="5.85" height="5.72" fill="#fde8e0"/>
<rect x="409.40" y="277.73" width="5.85" height="5.72" fill="#fcd8d0"/>
<rect x="398.00" y="283.30" width="5.85" height="5.72" fill="#fde8e0"/>
<rect x="403.70" y="283.30" width="5.85" height="5.72" fill="#fcd0c8"/>
<rect x="409.40" y="283.30" width="5.85" height="5.72" fill="#c81e24"/>
<rect x="398.00" y="288.87" width="5.85" height="5.72" fill="#f49880"/>
<rect x="403.70" y="288.87" width="5.85" height="5.72" fill="#f49880"/>
<rect x="409.40" y="288.87" width="5.85" height="5.72" fill="#fcd0c0"/>
<rect x="398.00" y="294.43" width="5.85" height="5.72" fill="#fde4dc"/>
<rect x="403.70" y="294.43" width="5.85" height="5.72" fill="#fde4dc"/>
<rect x="409.40" y="294.43" width="5.85" height="5.72" fill="#f4a088"/>
<rect x="398.00" y="302.70" width="5.85" height="5.91" fill="#dde9f6"/>
<rect x="403.70" y="302.70" width="5.85" height="5.91" fill="#8db8e0"/>
<rect x="409.40" y="302.70" width="5.85" height="5.91" fill="#6aa4d8"/>
<rect x="398.00" y="308.46" width="5.85" height="5.91" fill="#e2eef8"/>
<rect x="403.70" y="308.46" width="5.85" height="5.91" fill="#7fb0dc"/>
<rect x="409.40" y="308.46" width="5.85" height="5.91" fill="#5c9ad0"/>
<rect x="398.00" y="314.21" width="5.85" height="5.91" fill="#e6f0f9"/>
<rect x="403.70" y="314.21" width="5.85" height="5.91" fill="#88b4de"/>
<rect x="409.40" y="314.21" width="5.85" height="5.91" fill="#5a98d0"/>
<rect x="398.00" y="319.97" width="5.85" height="5.91" fill="#e8f1fa"/>
<rect x="403.70" y="319.97" width="5.85" height="5.91" fill="#a4c8e8"/>
<rect x="409.40" y="319.97" width="5.85" height="5.91" fill="#3a80c4"/>
<rect x="398.00" y="325.73" width="5.85" height="5.91" fill="#e8f1fa"/>
<rect x="403.70" y="325.73" width="5.85" height="5.91" fill="#98c0e4"/>
<rect x="409.40" y="325.73" width="5.85" height="5.91" fill="#2e78c0"/>
<rect x="398.00" y="331.49" width="5.85" height="5.91" fill="#e6f0f9"/>
<rect x="403.70" y="331.49" width="5.85" height="5.91" fill="#7fb0dc"/>
<rect x="409.40" y="331.49" width="5.85" height="5.91" fill="#2268b0"/>
<rect x="398.00" y="337.24" width="5.85" height="5.91" fill="#e4eef8"/>
<rect x="403.70" y="337.24" width="5.85" height="5.91" fill="#6ca4d6"/>
<rect x="409.40" y="337.24" width="5.85" height="5.91" fill="#2a70b8"/>
<text x="417.80" y="226.51" font-size="5.8" fill="#444" font-style="italic" textLength="11.40" lengthAdjust="spacingAndGlyphs">DEP</text>
<text x="417.80" y="232.94" font-size="5.8" fill="#444" font-style="italic" textLength="10.60" lengthAdjust="spacingAndGlyphs">GCL</text>
<text x="417.80" y="239.36" font-size="5.8" fill="#444" font-style="italic" textLength="8.40" lengthAdjust="spacingAndGlyphs">INF</text>
<text x="417.80" y="245.79" font-size="5.8" fill="#444" font-style="italic" textLength="11.40" lengthAdjust="spacingAndGlyphs">MES</text>
<text x="417.80" y="254.78" font-size="5.8" fill="#444" font-style="italic" textLength="9.20" lengthAdjust="spacingAndGlyphs">LE1</text>
<text x="417.80" y="260.35" font-size="5.8" fill="#444" font-style="italic" textLength="9.20" lengthAdjust="spacingAndGlyphs">LE2</text>
<text x="417.80" y="265.92" font-size="5.8" fill="#444" font-style="italic" textLength="9.20" lengthAdjust="spacingAndGlyphs">LE3</text>
<text x="417.80" y="271.48" font-size="5.8" fill="#444" font-style="italic" textLength="9.20" lengthAdjust="spacingAndGlyphs">LE4</text>
<text x="417.80" y="277.05" font-size="5.8" fill="#444" font-style="italic" textLength="9.20" lengthAdjust="spacingAndGlyphs">LE5</text>
<text x="417.80" y="282.62" font-size="5.8" fill="#444" font-style="italic" textLength="9.20" lengthAdjust="spacingAndGlyphs">LE6</text>
<text x="417.80" y="288.18" font-size="5.8" fill="#444" font-style="italic" textLength="9.20" lengthAdjust="spacingAndGlyphs">LE7</text>
<text x="417.80" y="293.75" font-size="5.8" fill="#444" font-style="italic" textLength="9.20" lengthAdjust="spacingAndGlyphs">LE8</text>
<text x="417.80" y="299.32" font-size="5.8" fill="#444" font-style="italic" textLength="9.20" lengthAdjust="spacingAndGlyphs">LE9</text>
<text x="417.80" y="307.68" font-size="5.8" fill="#444" font-style="italic" textLength="7.60" lengthAdjust="spacingAndGlyphs">TIL</text>
<text x="417.80" y="313.44" font-size="5.8" fill="#444" font-style="italic" textLength="34.00" lengthAdjust="spacingAndGlyphs">EXHAUSTION</text>
<text x="417.80" y="319.19" font-size="5.8" fill="#444" font-style="italic" textLength="20.00" lengthAdjust="spacingAndGlyphs">MACRO</text>
<text x="417.80" y="324.95" font-size="5.8" fill="#444" font-style="italic" textLength="29.00" lengthAdjust="spacingAndGlyphs">STROMAL−2</text>
<text x="417.80" y="330.71" font-size="5.8" fill="#444" font-style="italic" textLength="16.00" lengthAdjust="spacingAndGlyphs">TREG</text>
<text x="417.80" y="336.46" font-size="5.8" fill="#444" font-style="italic" textLength="17.40" lengthAdjust="spacingAndGlyphs">ANGIO</text>
<text x="417.80" y="342.22" font-size="5.8" fill="#444" font-style="italic" textLength="11.00" lengthAdjust="spacingAndGlyphs">CAL</text>
<text x="457.60" y="236.00" font-size="7.0" fill="#1a1a1a" font-weight="bold" font-style="italic" textLength="55.00" lengthAdjust="spacingAndGlyphs">Microenvironment</text>
<text x="457.60" y="242.40" font-size="7.0" fill="#1a1a1a" font-weight="bold" font-style="italic" textLength="30.70" lengthAdjust="spacingAndGlyphs">signatures</text>
<text x="457.60" y="275.60" font-size="7.0" fill="#1a1a1a" font-weight="bold" font-style="italic" textLength="32.80" lengthAdjust="spacingAndGlyphs">Lymphoma</text>
<text x="457.60" y="282.00" font-size="7.0" fill="#1a1a1a" font-weight="bold" font-style="italic" textLength="27.50" lengthAdjust="spacingAndGlyphs">Ecotypes</text>
<text x="457.60" y="320.00" font-size="7.0" fill="#1a1a1a" font-weight="bold" font-style="italic" textLength="46.50" lengthAdjust="spacingAndGlyphs">Validation IL-10</text>
<text x="457.60" y="326.40" font-size="7.0" fill="#1a1a1a" font-weight="bold" font-style="italic" textLength="31.70" lengthAdjust="spacingAndGlyphs">associated</text>
<text x="457.60" y="332.80" font-size="7.0" fill="#1a1a1a" font-weight="bold" font-style="italic" textLength="31.00" lengthAdjust="spacingAndGlyphs">hallmarks</text>
<defs><linearGradient id="gg" x1="0" y1="0" x2="0" y2="1"><stop offset="0" stop-color="#1e7a3a"/><stop offset="1" stop-color="#f4faf4"/></linearGradient><linearGradient id="rg" x1="0" y1="0" x2="0" y2="1"><stop offset="0" stop-color="#b4141c"/><stop offset="1" stop-color="#fdeee8"/></linearGradient><linearGradient id="bg" x1="0" y1="0" x2="0" y2="1"><stop offset="0" stop-color="#1f5ea8"/><stop offset="1" stop-color="#eef4fb"/></linearGradient></defs>
<rect x="382.30" y="226.00" width="3.20" height="21.00" fill="url(#gg)"/>
<text x="383.90" y="224.20" font-size="4.6" fill="#3a3a3a" text-anchor="middle">%</text>
<text x="379.40" y="228.90" font-size="5.6" fill="#3a3a3a" text-anchor="end">0.6</text>
<text x="379.40" y="235.00" font-size="5.6" fill="#3a3a3a" text-anchor="end">0.4</text>
<text x="379.40" y="241.70" font-size="5.6" fill="#3a3a3a" text-anchor="end">0.2</text>
<text x="379.40" y="247.80" font-size="5.6" fill="#3a3a3a" text-anchor="end">0</text>
<rect x="381.80" y="267.00" width="3.20" height="20.00" fill="url(#rg)"/>
<text x="383.50" y="265.00" font-size="4.6" fill="#3a3a3a" text-anchor="middle">%</text>
<text x="380.40" y="270.50" font-size="5.6" fill="#3a3a3a" text-anchor="end">0.6</text>
<text x="380.40" y="276.20" font-size="5.6" fill="#3a3a3a" text-anchor="end">0.4</text>
<text x="380.40" y="282.00" font-size="5.6" fill="#3a3a3a" text-anchor="end">0.2</text>
<text x="380.40" y="288.00" font-size="5.6" fill="#3a3a3a" text-anchor="end">0</text>
<text x="383.80" y="302.80" font-size="4.6" fill="#3a3a3a" text-anchor="middle" textLength="19.00" lengthAdjust="spacingAndGlyphs">z−score</text>
<text x="384.60" y="308.60" font-size="4.6" fill="#3a3a3a" text-anchor="middle" textLength="16.00" lengthAdjust="spacingAndGlyphs">(mean)</text>
<rect x="382.00" y="313.20" width="3.60" height="27.80" fill="url(#bg)"/>
<text x="380.00" y="316.30" font-size="5.6" fill="#3a3a3a" text-anchor="end">1.5</text>
<text x="380.00" y="320.60" font-size="5.6" fill="#3a3a3a" text-anchor="end">1</text>
<text x="380.00" y="325.20" font-size="5.6" fill="#3a3a3a" text-anchor="end">0.5</text>
<text x="380.00" y="330.60" font-size="5.6" fill="#3a3a3a" text-anchor="end">0</text>
<text x="380.00" y="336.30" font-size="5.6" fill="#3a3a3a" text-anchor="end">−0.5</text>
<text x="380.00" y="341.90" font-size="5.6" fill="#3a3a3a" text-anchor="end">−1</text>
<text x="400.90" y="346.90" font-size="5.6" fill="#444" text-anchor="end" textLength="11.70" lengthAdjust="spacingAndGlyphs" transform="rotate(-45 400.90 346.90)">High</text>
<text x="407.40" y="346.90" font-size="5.6" fill="#444" text-anchor="end" textLength="11.70" lengthAdjust="spacingAndGlyphs" transform="rotate(-45 407.40 346.90)">Med</text>
<text x="415.10" y="346.90" font-size="5.6" fill="#444" text-anchor="end" textLength="11.10" lengthAdjust="spacingAndGlyphs" transform="rotate(-45 415.10 346.90)">Low</text>
<line x1="391.90" y1="356.90" x2="408.90" y2="356.90" stroke="#555" stroke-width="0.8"/>
<text x="400.45" y="363.20" font-size="5.6" fill="#444" text-anchor="middle" textLength="11.10" lengthAdjust="spacingAndGlyphs">SILX</text>
<text x="6.90" y="380.60" font-size="12.0" fill="#000" font-weight="bold">F</text>
<text x="121.30" y="394.40" font-size="8.6" fill="#333" stroke="#333" stroke-width="0.12" text-anchor="middle" font-style="italic" textLength="67.80" lengthAdjust="spacingAndGlyphs">Validation Cohort</text>
<line x1="49.50" y1="406.20" x2="49.50" y2="494.30" stroke="#231f20" stroke-width="1.1"/>
<line x1="46.90" y1="494.20" x2="192.80" y2="494.20" stroke="#231f20" stroke-width="1.1"/>
<line x1="46.10" y1="408.50" x2="49.50" y2="408.50" stroke="#231f20" stroke-width="0.9"/>
<text x="43.20" y="410.90" font-size="7.0" fill="#2a2a2a" stroke="#2a2a2a" stroke-width="0.12" text-anchor="end">100</text>
<line x1="46.10" y1="429.93" x2="49.50" y2="429.93" stroke="#231f20" stroke-width="0.9"/>
<text x="43.20" y="432.32" font-size="7.0" fill="#2a2a2a" stroke="#2a2a2a" stroke-width="0.12" text-anchor="end">75</text>
<line x1="46.10" y1="451.35" x2="49.50" y2="451.35" stroke="#231f20" stroke-width="0.9"/>
<text x="43.20" y="453.75" font-size="7.0" fill="#2a2a2a" stroke="#2a2a2a" stroke-width="0.12" text-anchor="end">50</text>
<line x1="46.10" y1="472.77" x2="49.50" y2="472.77" stroke="#231f20" stroke-width="0.9"/>
<text x="43.20" y="475.17" font-size="7.0" fill="#2a2a2a" stroke="#2a2a2a" stroke-width="0.12" text-anchor="end">25</text>
<line x1="46.10" y1="494.20" x2="49.50" y2="494.20" stroke="#231f20" stroke-width="0.9"/>
<text x="43.20" y="496.60" font-size="7.0" fill="#2a2a2a" stroke="#2a2a2a" stroke-width="0.12" text-anchor="end">0</text>
<line x1="47.70" y1="419.21" x2="49.50" y2="419.21" stroke="#231f20" stroke-width="0.8"/>
<line x1="47.70" y1="440.64" x2="49.50" y2="440.64" stroke="#231f20" stroke-width="0.8"/>
<line x1="47.70" y1="462.06" x2="49.50" y2="462.06" stroke="#231f20" stroke-width="0.8"/>
<line x1="47.70" y1="483.49" x2="49.50" y2="483.49" stroke="#231f20" stroke-width="0.8"/>
<line x1="60.00" y1="494.20" x2="60.00" y2="496.90" stroke="#231f20" stroke-width="0.9"/>
<text x="60.00" y="505.80" font-size="7.0" fill="#2a2a2a" stroke="#2a2a2a" stroke-width="0.12" text-anchor="middle">0</text>
<line x1="103.10" y1="494.20" x2="103.10" y2="496.90" stroke="#231f20" stroke-width="0.9"/>
<text x="103.10" y="505.80" font-size="7.0" fill="#2a2a2a" stroke="#2a2a2a" stroke-width="0.12" text-anchor="middle">4</text>
<line x1="146.50" y1="494.20" x2="146.50" y2="496.90" stroke="#231f20" stroke-width="0.9"/>
<text x="146.50" y="505.80" font-size="7.0" fill="#2a2a2a" stroke="#2a2a2a" stroke-width="0.12" text-anchor="middle">8</text>
<line x1="189.70" y1="494.20" x2="189.70" y2="496.90" stroke="#231f20" stroke-width="0.9"/>
<text x="189.70" y="505.80" font-size="7.0" fill="#2a2a2a" stroke="#2a2a2a" stroke-width="0.12" text-anchor="middle">12</text>
<line x1="81.50" y1="494.20" x2="81.50" y2="495.80" stroke="#231f20" stroke-width="0.7"/>
<line x1="124.80" y1="494.20" x2="124.80" y2="495.80" stroke="#231f20" stroke-width="0.7"/>
<line x1="168.10" y1="494.20" x2="168.10" y2="495.80" stroke="#231f20" stroke-width="0.7"/>
<text x="26.80" y="446.70" font-size="7.4" fill="#2a2a2a" stroke="#2a2a2a" stroke-width="0.12" text-anchor="middle" textLength="57.00" lengthAdjust="spacingAndGlyphs" transform="rotate(-90 26.80 446.70)">Overall survival (%)</text>
<text x="121.70" y="517.70" font-size="8.8" fill="#2a2a2a" stroke="#2a2a2a" stroke-width="0.12" text-anchor="middle" textLength="83.20" lengthAdjust="spacingAndGlyphs">Time from treatment (years)</text>
<path d="M60.40,408.30 L61.70,409.90 L63.00,411.20 L64.40,413.21 L65.80,414.80 L66.90,416.59 L68.00,418.20 L69.80,421.50 L70.80,423.36 L71.80,425.00 L72.80,426.31 L73.80,428.30 L74.80,429.57 L75.80,431.40 L76.85,432.65 L77.90,434.30 L79.50,436.20 L81.20,437.70 L82.35,437.70 L82.35,438.29 L83.50,438.29 L83.50,438.50 L84.75,438.50 L84.75,438.59 L86.00,438.59 L86.00,439.00 L87.25,439.00 L87.25,439.20 L88.50,439.20 L88.50,439.30 L89.90,439.30 L89.90,439.11 L91.30,439.11 L91.30,439.70 L92.30,439.70 L92.30,439.65 L93.30,439.65 L93.30,440.30 L94.35,440.30 L94.35,440.47 L95.40,440.47 L95.40,441.00 L96.70,441.00 L96.70,441.64 L98.00,441.64 L98.00,442.00 L99.40,442.00 L99.40,442.70 L100.80,442.70 L100.80,443.10 L102.15,443.10 L102.15,443.89 L103.50,443.89 L103.50,444.40 L104.80,444.40 L104.80,444.93 L106.10,444.93 L106.10,445.80 L107.45,445.80 L107.45,446.36 L108.80,446.36 L108.80,446.90 L110.15,446.90 L110.15,447.32 L111.50,447.32 L111.50,447.80 L112.75,447.80 L112.75,448.12 L114.00,448.12 L114.00,448.50 L115.45,448.50 L115.45,448.49 L116.90,448.49 L116.90,449.10 L117.93,449.10 L117.93,449.45 L118.97,449.45 L118.97,448.93 L120.00,448.93 L120.00,449.20 L125.10,449.20 L125.10,453.00 L135.20,453.00 L135.20,455.70 L136.50,459.70 L172.90,459.70" fill="none" stroke="#c8193c" stroke-width="1.6" stroke-linejoin="round"/>
<path d="M60.40,408.30 L61.70,409.98 L63.00,410.90 L64.40,412.55 L65.80,413.50 L67.15,414.46 L68.50,416.20 L69.85,417.47 L71.20,418.80 L72.30,419.79 L73.40,420.64 L74.50,421.00 L75.63,421.00 L75.63,421.59 L76.77,421.59 L76.77,422.08 L77.90,422.08 L77.90,422.90 L79.00,422.90 L79.00,423.13 L80.10,423.13 L80.10,424.19 L81.20,424.19 L81.20,424.30 L82.33,424.30 L82.33,424.50 L83.47,424.50 L83.47,425.23 L84.60,425.23 L84.60,425.60 L85.60,425.60 L85.60,425.66 L86.60,425.66 L86.60,426.32 L87.60,426.32 L87.60,427.01 L88.60,427.01 L88.60,427.00 L89.62,427.00 L89.62,427.03 L90.65,427.03 L90.65,427.91 L91.67,427.91 L91.67,427.98 L92.70,427.98 L92.70,428.30 L93.70,428.30 L93.70,428.78 L94.70,428.78 L94.70,428.81 L95.70,428.81 L95.70,428.61 L96.70,428.61 L96.70,429.00 L97.72,429.00 L97.72,429.47 L98.75,429.47 L98.75,429.29 L99.78,429.29 L99.78,429.07 L100.80,429.07 L100.80,429.60 L101.80,429.60 L101.80,429.45 L102.80,429.45 L102.80,430.09 L103.80,430.09 L103.80,430.31 L104.80,430.31 L104.80,430.60 L105.80,430.60 L105.80,430.69 L106.80,430.69 L106.80,430.81 L107.80,430.81 L107.80,431.23 L108.80,431.23 L108.80,431.60 L109.80,431.60 L109.80,431.70 L110.80,431.70 L110.80,432.37 L111.80,432.37 L111.80,431.95 L112.80,431.95 L112.80,432.60 L113.83,432.60 L113.83,433.05 L114.85,433.05 L114.85,433.37 L115.88,433.37 L115.88,433.05 L116.90,433.05 L116.90,433.60 L117.93,433.60 L117.93,434.19 L118.95,434.19 L118.95,434.27 L119.97,434.27 L119.97,434.67 L121.00,434.67 L121.00,434.60 L122.00,434.60 L122.00,434.88 L123.00,434.88 L123.00,435.40 L124.00,435.40 L124.00,435.86 L125.00,435.86 L125.00,436.40 L126.00,436.40 L126.00,437.20 L127.00,437.20 L127.00,437.27 L128.00,437.27 L128.00,437.60 L129.00,437.60 L129.00,437.82 L130.00,437.82 L130.00,438.21 L131.00,438.21 L131.00,438.60 L132.05,438.60 L132.05,438.82 L133.10,438.82 L133.10,439.04 L134.15,439.04 L134.15,439.48 L135.20,439.48 L135.20,440.20 L136.33,440.20 L136.33,441.13 L137.47,441.13 L137.47,441.36 L138.60,441.36 L138.60,442.20 L139.70,443.22 L140.80,443.33 L141.90,444.20 L181.00,444.20" fill="none" stroke="#8c9fc5" stroke-width="1.6" stroke-linejoin="round"/>
<path d="M60.40,408.30 L61.40,408.30 L61.40,408.71 L62.40,408.71 L62.40,409.50 L63.40,410.16 L64.40,410.80 L65.45,410.80 L65.45,411.05 L66.50,411.05 L66.50,411.80 L67.50,411.80 L67.50,412.20 L68.50,412.20 L68.50,412.80 L69.50,413.86 L70.50,414.20 L71.50,415.16 L72.50,415.50 L73.60,416.42 L74.70,416.94 L75.80,417.50 L76.93,417.50 L76.93,418.50 L78.07,418.50 L78.07,419.19 L79.20,419.19 L79.20,419.50 L80.33,419.50 L80.33,419.77 L81.47,419.77 L81.47,420.14 L82.60,420.14 L82.60,420.20 L83.73,420.20 L83.73,420.07 L84.87,420.07 L84.87,420.85 L86.00,420.85 L86.00,420.90 L87.10,420.90 L87.10,421.09 L88.20,421.09 L88.20,421.57 L89.30,421.57 L89.30,421.60 L90.43,421.60 L90.43,421.92 L91.57,421.92 L91.57,421.83 L92.70,421.83 L92.70,422.20 L93.80,422.20 L93.80,422.17 L94.90,422.17 L94.90,423.21 L96.00,423.21 L96.00,423.20 L97.13,423.20 L97.13,423.24 L98.27,423.24 L98.27,423.84 L99.40,423.84 L99.40,424.20 L100.50,424.20 L100.50,424.51 L101.60,424.51 L101.60,424.90 L102.70,424.90 L102.70,425.50 L103.83,425.50 L103.83,426.16 L104.97,426.16 L104.97,426.81 L106.10,426.81 L106.10,426.90 L107.23,426.90 L107.23,426.94 L108.37,426.94 L108.37,427.49 L109.50,427.49 L109.50,427.60 L110.63,427.60 L110.63,427.67 L111.77,427.67 L111.77,428.11 L112.90,428.11 L112.90,428.30 L114.00,428.30 L114.00,428.55 L115.10,428.55 L115.10,428.70 L116.20,428.70 L116.20,429.30 L117.25,429.30 L117.25,429.05 L118.30,429.05 L118.30,429.12 L119.35,429.12 L119.35,429.70 L120.40,429.70 L120.40,429.40 L120.40,433.50 L125.80,433.50 L125.80,436.20 L133.80,436.20 L133.80,441.50 L138.60,441.50 L138.60,447.60 L171.50,447.60" fill="none" stroke="#1f4a86" stroke-width="1.6" stroke-linejoin="round"/>
<line x1="140.00" y1="458.70" x2="140.00" y2="460.70" stroke="#c8193c" stroke-width="0.6"/>
<line x1="146.00" y1="458.70" x2="146.00" y2="460.70" stroke="#c8193c" stroke-width="0.6"/>
<line x1="152.00" y1="458.70" x2="152.00" y2="460.70" stroke="#c8193c" stroke-width="0.6"/>
<line x1="158.00" y1="458.70" x2="158.00" y2="460.70" stroke="#c8193c" stroke-width="0.6"/>
<line x1="164.00" y1="458.70" x2="164.00" y2="460.70" stroke="#c8193c" stroke-width="0.6"/>
<line x1="145.00" y1="446.60" x2="145.00" y2="448.60" stroke="#1f4a86" stroke-width="0.6"/>
<line x1="152.00" y1="446.60" x2="152.00" y2="448.60" stroke="#1f4a86" stroke-width="0.6"/>
<line x1="160.00" y1="446.60" x2="160.00" y2="448.60" stroke="#1f4a86" stroke-width="0.6"/>
<line x1="150.00" y1="443.20" x2="150.00" y2="445.20" stroke="#8c9fc5" stroke-width="0.6"/>
<line x1="158.00" y1="443.20" x2="158.00" y2="445.20" stroke="#8c9fc5" stroke-width="0.6"/>
<line x1="166.00" y1="443.20" x2="166.00" y2="445.20" stroke="#8c9fc5" stroke-width="0.6"/>
<line x1="174.00" y1="443.20" x2="174.00" y2="445.20" stroke="#8c9fc5" stroke-width="0.6"/>
<circle cx="126.50" cy="412.70" r="1.5" fill="#b0122e"/>
<text x="131.00" y="415.20" font-size="7.2" fill="#333" stroke="#333" stroke-width="0.12" textLength="13.60" lengthAdjust="spacingAndGlyphs">SILX</text>
<text x="146.00" y="412.10" font-size="3.6" fill="#333">High</text>
<text x="157.00" y="415.20" font-size="7.2" fill="#333" stroke="#333" stroke-width="0.12" textLength="26.00" lengthAdjust="spacingAndGlyphs">(n = 349)</text>
<circle cx="126.50" cy="420.00" r="1.5" fill="#8e96ad"/>
<text x="131.00" y="422.50" font-size="7.2" fill="#333" stroke="#333" stroke-width="0.12" textLength="13.60" lengthAdjust="spacingAndGlyphs">SILX</text>
<text x="146.00" y="419.40" font-size="3.6" fill="#333">Med</text>
<text x="157.00" y="422.50" font-size="7.2" fill="#333" stroke="#333" stroke-width="0.12" textLength="26.00" lengthAdjust="spacingAndGlyphs">(n = 694)</text>
<circle cx="126.50" cy="427.30" r="1.5" fill="#1a2c4e"/>
<text x="131.00" y="429.80" font-size="7.2" fill="#333" stroke="#333" stroke-width="0.12" textLength="13.60" lengthAdjust="spacingAndGlyphs">SILX</text>
<text x="146.00" y="426.70" font-size="3.6" fill="#333">Low</text>
<text x="157.00" y="429.80" font-size="7.2" fill="#333" stroke="#333" stroke-width="0.12" textLength="26.00" lengthAdjust="spacingAndGlyphs">(n = 347)</text>
<text x="52.30" y="462.50" font-size="6.8" fill="#2a2a2a" stroke="#2a2a2a" stroke-width="0.12" textLength="34.60" lengthAdjust="spacingAndGlyphs">Comparison</text>
<text x="100.80" y="462.50" font-size="6.8" fill="#2a2a2a" stroke="#2a2a2a" stroke-width="0.12" textLength="20.70" lengthAdjust="spacingAndGlyphs"><tspan font-style="italic">P</tspan> value</text>
<text x="52.30" y="469.20" font-size="5.5" fill="#2a2a2a" textLength="15.40" lengthAdjust="spacingAndGlyphs">Model</text>
<text x="122.00" y="469.20" font-size="5.5" fill="#2a2a2a" text-anchor="end" textLength="14.00" lengthAdjust="spacingAndGlyphs">&lt; .001</text>
<text x="52.30" y="476.90" font-size="5.5" fill="#2a2a2a" textLength="39.20" lengthAdjust="spacingAndGlyphs">High vs Medium</text>
<text x="122.00" y="476.90" font-size="5.5" fill="#2a2a2a" text-anchor="end" textLength="14.00" lengthAdjust="spacingAndGlyphs">&lt; .001</text>
<text x="52.30" y="484.60" font-size="5.5" fill="#2a2a2a" textLength="29.20" lengthAdjust="spacingAndGlyphs">High vs Low</text>
<text x="122.00" y="484.60" font-size="5.5" fill="#2a2a2a" text-anchor="end" textLength="14.00" lengthAdjust="spacingAndGlyphs">&lt; .001</text>
<text x="52.30" y="491.30" font-size="5.5" fill="#2a2a2a" textLength="38.00" lengthAdjust="spacingAndGlyphs">Low vs Medium</text>
<text x="122.00" y="491.30" font-size="5.5" fill="#2a2a2a" text-anchor="end" textLength="13.50" lengthAdjust="spacingAndGlyphs">.0280</text>
<text x="210.45" y="380.90" font-size="12.0" fill="#000" font-weight="bold">G</text>
<line x1="309.2" y1="392" x2="309.2" y2="494.6" stroke="#d23a4a" stroke-width="0.7" stroke-dasharray="1.2,1.0"/>
<line x1="228.8" y1="441.3" x2="350.5" y2="441.3" stroke="#555" stroke-width="0.7" stroke-dasharray="1.2,1.0"/>
<line x1="266.50" y1="494.60" x2="351.20" y2="494.60" stroke="#231f20" stroke-width="1.1"/>
<line x1="268.20" y1="494.60" x2="268.20" y2="496.80" stroke="#231f20" stroke-width="0.8"/>
<text x="267.00" y="506.60" font-size="7.8" fill="#2a2a2a" stroke="#2a2a2a" stroke-width="0.12" text-anchor="middle" textLength="12.60" lengthAdjust="spacingAndGlyphs">−2.0</text>
<line x1="288.70" y1="494.60" x2="288.70" y2="496.80" stroke="#231f20" stroke-width="0.8"/>
<text x="287.50" y="506.60" font-size="7.8" fill="#2a2a2a" stroke="#2a2a2a" stroke-width="0.12" text-anchor="middle" textLength="12.60" lengthAdjust="spacingAndGlyphs">−1.0</text>
<line x1="309.20" y1="494.60" x2="309.20" y2="496.80" stroke="#231f20" stroke-width="0.8"/>
<text x="309.20" y="506.60" font-size="7.8" fill="#2a2a2a" stroke="#2a2a2a" stroke-width="0.12" text-anchor="middle" textLength="9.00" lengthAdjust="spacingAndGlyphs">0.0</text>
<line x1="329.70" y1="494.60" x2="329.70" y2="496.80" stroke="#231f20" stroke-width="0.8"/>
<text x="329.70" y="506.60" font-size="7.8" fill="#2a2a2a" stroke="#2a2a2a" stroke-width="0.12" text-anchor="middle" textLength="9.00" lengthAdjust="spacingAndGlyphs">1.0</text>
<line x1="350.20" y1="494.60" x2="350.20" y2="496.80" stroke="#231f20" stroke-width="0.8"/>
<text x="350.20" y="506.60" font-size="7.8" fill="#2a2a2a" stroke="#2a2a2a" stroke-width="0.12" text-anchor="middle" textLength="9.00" lengthAdjust="spacingAndGlyphs">2.0</text>
<text x="309.20" y="517.60" font-size="9.2" fill="#2a2a2a" stroke="#2a2a2a" stroke-width="0.12" text-anchor="middle" textLength="39.00" lengthAdjust="spacingAndGlyphs">OS HR (log2)</text>
<text x="226.00" y="408.20" font-size="6.4" fill="#111" font-weight="bold" textLength="14.80" lengthAdjust="spacingAndGlyphs">COO</text>
<text x="226.00" y="455.40" font-size="6.4" fill="#111" font-weight="bold" textLength="13.40" lengthAdjust="spacingAndGlyphs">SILX</text>
<text x="298.00" y="407.90" font-size="5.5" fill="#333" stroke="#333" stroke-width="0.08" text-anchor="end" textLength="38.80" lengthAdjust="spacingAndGlyphs">GCB (reference)</text>
<text x="298.00" y="419.20" font-size="5.5" fill="#333" stroke="#333" stroke-width="0.08" text-anchor="end">ABC</text>
<text x="298.00" y="431.30" font-size="5.5" fill="#333" stroke="#333" stroke-width="0.08" text-anchor="end">UNC</text>
<text x="297.80" y="455.50" font-size="5.5" fill="#333" stroke="#333" stroke-width="0.08" text-anchor="end">SILX<tspan font-size="3.03" dy="-1.8"> Low</tspan><tspan dy="1.8"> (reference)</tspan></text>
<text x="297.80" y="468.50" font-size="5.5" fill="#333" stroke="#333" stroke-width="0.08" text-anchor="end">SILX<tspan font-size="3.03" dy="-1.8"> Med</tspan><tspan dy="1.8"></tspan></text>
<text x="297.80" y="479.50" font-size="5.5" fill="#333" stroke="#333" stroke-width="0.08" text-anchor="end">SILX<tspan font-size="3.03" dy="-1.8"> High</tspan><tspan dy="1.8"></tspan></text>
<rect x="307.80" y="404.40" width="2.80" height="2.80" fill="#1f3f33"/>
<rect x="307.80" y="452.30" width="2.80" height="2.80" fill="#1f3f33"/>
<line x1="320.30" y1="417.00" x2="333.80" y2="417.00" stroke="#d2334f" stroke-width="0.8"/>
<rect x="324.70" y="415.50" width="3.00" height="3.00" fill="#8a1426"/>
<line x1="302.30" y1="428.80" x2="322.80" y2="428.80" stroke="#3f9a70" stroke-width="0.8"/>
<rect x="310.50" y="427.30" width="3.00" height="3.00" fill="#1f5a40"/>
<line x1="306.90" y1="466.90" x2="322.60" y2="466.90" stroke="#3f9a70" stroke-width="0.8"/>
<rect x="312.80" y="465.40" width="3.00" height="3.00" fill="#1f5a40"/>
<line x1="322.00" y1="477.80" x2="339.20" y2="477.80" stroke="#d2334f" stroke-width="0.8"/>
<rect x="329.70" y="476.30" width="3.00" height="3.00" fill="#8a1426"/>
<text x="343.60" y="421.60" font-size="7.8" fill="#333" stroke="#333" stroke-width="0.1" textLength="7.60" lengthAdjust="spacingAndGlyphs">***</text>
<text x="343.40" y="482.40" font-size="7.8" fill="#333" stroke="#333" stroke-width="0.1" textLength="8.40" lengthAdjust="spacingAndGlyphs">***</text>
<line x1="405.40" y1="388.70" x2="405.40" y2="433.10" stroke="#231f20" stroke-width="1.1"/>
<line x1="402.80" y1="432.60" x2="477.00" y2="432.60" stroke="#231f20" stroke-width="1.1"/>
<line x1="402.40" y1="392.90" x2="405.40" y2="392.90" stroke="#231f20" stroke-width="0.9"/>
<text x="399.40" y="395.30" font-size="7.0" fill="#2a2a2a" stroke="#2a2a2a" stroke-width="0.12" text-anchor="end">100</text>
<line x1="402.40" y1="402.82" x2="405.40" y2="402.82" stroke="#231f20" stroke-width="0.9"/>
<text x="399.40" y="405.22" font-size="7.0" fill="#2a2a2a" stroke="#2a2a2a" stroke-width="0.12" text-anchor="end">75</text>
<line x1="402.40" y1="412.75" x2="405.40" y2="412.75" stroke="#231f20" stroke-width="0.9"/>
<text x="399.40" y="415.15" font-size="7.0" fill="#2a2a2a" stroke="#2a2a2a" stroke-width="0.12" text-anchor="end">50</text>
<line x1="402.40" y1="422.68" x2="405.40" y2="422.68" stroke="#231f20" stroke-width="0.9"/>
<text x="399.40" y="425.07" font-size="7.0" fill="#2a2a2a" stroke="#2a2a2a" stroke-width="0.12" text-anchor="end">25</text>
<line x1="402.40" y1="432.60" x2="405.40" y2="432.60" stroke="#231f20" stroke-width="0.9"/>
<text x="399.40" y="435.00" font-size="7.0" fill="#2a2a2a" stroke="#2a2a2a" stroke-width="0.12" text-anchor="end">0</text>
<line x1="403.60" y1="397.86" x2="405.40" y2="397.86" stroke="#231f20" stroke-width="0.7"/>
<line x1="403.60" y1="407.79" x2="405.40" y2="407.79" stroke="#231f20" stroke-width="0.7"/>
<line x1="403.60" y1="417.71" x2="405.40" y2="417.71" stroke="#231f20" stroke-width="0.7"/>
<line x1="403.60" y1="427.64" x2="405.40" y2="427.64" stroke="#231f20" stroke-width="0.7"/>
<line x1="410.70" y1="432.60" x2="410.70" y2="435.20" stroke="#231f20" stroke-width="0.9"/>
<text x="410.70" y="444.50" font-size="7.0" fill="#2a2a2a" stroke="#2a2a2a" stroke-width="0.12" text-anchor="middle">0</text>
<line x1="432.00" y1="432.60" x2="432.00" y2="435.20" stroke="#231f20" stroke-width="0.9"/>
<text x="432.00" y="444.50" font-size="7.0" fill="#2a2a2a" stroke="#2a2a2a" stroke-width="0.12" text-anchor="middle">4</text>
<line x1="453.60" y1="432.60" x2="453.60" y2="435.20" stroke="#231f20" stroke-width="0.9"/>
<text x="453.60" y="444.50" font-size="7.0" fill="#2a2a2a" stroke="#2a2a2a" stroke-width="0.12" text-anchor="middle">8</text>
<line x1="474.70" y1="432.60" x2="474.70" y2="435.20" stroke="#231f20" stroke-width="0.9"/>
<text x="474.70" y="444.50" font-size="7.0" fill="#2a2a2a" stroke="#2a2a2a" stroke-width="0.12" text-anchor="middle">12</text>
<line x1="421.35" y1="432.60" x2="421.35" y2="433.90" stroke="#231f20" stroke-width="0.6"/>
<line x1="442.80" y1="432.60" x2="442.80" y2="433.90" stroke="#231f20" stroke-width="0.6"/>
<line x1="464.15" y1="432.60" x2="464.15" y2="433.90" stroke="#231f20" stroke-width="0.6"/>
<text x="383.20" y="410.65" font-size="7.9" fill="#2a2a2a" stroke="#2a2a2a" stroke-width="0.12" text-anchor="middle" textLength="45.70" lengthAdjust="spacingAndGlyphs" transform="rotate(-90 383.20 410.65)">Percent survival</text>
<text x="442.00" y="456.70" font-size="8.6" fill="#2a2a2a" stroke="#2a2a2a" stroke-width="0.12" text-anchor="middle" textLength="31.00" lengthAdjust="spacingAndGlyphs">OS (years)</text>
<text x="441.20" y="384.90" font-size="9.4" fill="#222" stroke="#222" stroke-width="0.12" text-anchor="middle" font-style="italic" textLength="18.50" lengthAdjust="spacingAndGlyphs">ABC</text>
<path d="M410.70,393.10 L413.00,396.00 L415.00,399.00 L417.10,401.50 L418.45,403.25 L419.80,405.00 L421.15,406.49 L422.50,408.20 L424.00,408.20 L424.00,408.76 L425.50,408.76 L425.50,409.00 L427.05,409.00 L427.05,409.45 L428.60,409.45 L428.60,409.50 L430.60,411.20 L432.60,412.90 L435.00,412.90 L435.00,413.80 L437.30,413.80 L437.30,414.60 L448.10,414.60 L448.10,422.30 L463.50,422.30" fill="none" stroke="#c8193c" stroke-width="1.1" stroke-linejoin="round"/>
<path d="M410.70,393.10 L413.00,395.50 L415.00,398.20 L417.10,400.80 L418.55,400.80 L418.55,401.63 L420.00,401.63 L420.00,402.50 L421.25,402.50 L421.25,403.06 L422.50,403.06 L422.50,403.90 L424.25,403.90 L424.25,404.38 L426.00,404.38 L426.00,405.10 L427.60,405.10 L427.60,405.49 L429.20,405.49 L429.20,406.20 L430.90,406.20 L430.90,406.79 L432.60,406.79 L432.60,407.50 L434.30,407.50 L434.30,408.04 L436.00,408.04 L436.00,408.90 L437.70,408.90 L437.70,409.30 L439.40,409.30 L439.40,409.90 L441.05,409.90 L441.05,410.30 L442.70,410.30 L442.70,410.90 L444.03,410.90 L444.03,411.59 L445.37,411.59 L445.37,412.39 L446.70,412.39 L446.70,412.90 L448.05,414.00 L449.40,414.90 L450.75,414.90 L450.75,415.42 L452.10,415.42 L452.10,416.00 L469.60,416.00" fill="none" stroke="#2a5590" stroke-width="1.1" stroke-linejoin="round"/>
<path d="M410.70,393.10 L413.00,393.10 L413.00,395.50 L415.50,395.50 L415.50,398.50 L417.50,398.50 L417.50,400.50 L419.80,400.50 L419.80,401.50 L428.60,401.50 L428.60,401.50 L432.60,401.50 L432.60,403.90 L439.30,403.90 L439.30,406.20 L443.40,406.20 L443.40,410.90 L446.00,410.90 L446.00,412.50 L448.10,412.50 L448.10,416.30 L453.50,416.30 L453.50,416.30" fill="none" stroke="#8f9fc2" stroke-width="1.0" stroke-linejoin="round"/>
<path d="M410.70,393.10 L413.00,395.30 L416.00,398.20 L419.00,400.30 L423.00,402.20 L428.00,404.40 L433.00,406.60 L438.00,408.60 L443.00,410.40 L447.00,412.40 L451.00,415.40 L469.60,415.40" fill="none" stroke="#9cc3e2" stroke-width="0.9" stroke-linejoin="round"/>
<text x="408.50" y="423.60" font-size="7.0" fill="#2a2a2a" stroke="#2a2a2a" stroke-width="0.12" textLength="22.50" lengthAdjust="spacingAndGlyphs"><tspan font-style="italic">P</tspan> value</text>
<text x="408.50" y="429.80" font-size="7.0" fill="#2a2a2a" stroke="#2a2a2a" stroke-width="0.12" textLength="15.00" lengthAdjust="spacingAndGlyphs">.0188</text>
<circle cx="446.80" cy="392.00" r="1.4" fill="#b0122e"/>
<text x="451.20" y="394.40" font-size="6.6" fill="#333" stroke="#333" stroke-width="0.12" textLength="13.10" lengthAdjust="spacingAndGlyphs">SILX</text>
<text x="466.00" y="390.60" font-size="3.4" fill="#333">High</text>
<circle cx="446.80" cy="397.60" r="1.4" fill="#1a4a7a"/>
<text x="451.20" y="400.00" font-size="6.6" fill="#333" stroke="#333" stroke-width="0.12" textLength="13.10" lengthAdjust="spacingAndGlyphs">SILX</text>
<text x="466.00" y="398.00" font-size="3.4" fill="#333" textLength="29.00" lengthAdjust="spacingAndGlyphs">• Low + • Med</text>
<line x1="404.40" y1="474.40" x2="404.40" y2="518.70" stroke="#231f20" stroke-width="1.1"/>
<line x1="401.80" y1="518.20" x2="476.10" y2="518.20" stroke="#231f20" stroke-width="1.1"/>
<line x1="401.40" y1="478.20" x2="404.40" y2="478.20" stroke="#231f20" stroke-width="0.9"/>
<text x="398.50" y="480.60" font-size="7.0" fill="#2a2a2a" stroke="#2a2a2a" stroke-width="0.12" text-anchor="end">100</text>
<line x1="401.40" y1="488.20" x2="404.40" y2="488.20" stroke="#231f20" stroke-width="0.9"/>
<text x="398.50" y="490.60" font-size="7.0" fill="#2a2a2a" stroke="#2a2a2a" stroke-width="0.12" text-anchor="end">75</text>
<line x1="401.40" y1="498.20" x2="404.40" y2="498.20" stroke="#231f20" stroke-width="0.9"/>
<text x="398.50" y="500.60" font-size="7.0" fill="#2a2a2a" stroke="#2a2a2a" stroke-width="0.12" text-anchor="end">50</text>
<line x1="401.40" y1="508.20" x2="404.40" y2="508.20" stroke="#231f20" stroke-width="0.9"/>
<text x="398.50" y="510.60" font-size="7.0" fill="#2a2a2a" stroke="#2a2a2a" stroke-width="0.12" text-anchor="end">25</text>
<line x1="401.40" y1="518.20" x2="404.40" y2="518.20" stroke="#231f20" stroke-width="0.9"/>
<text x="398.50" y="520.60" font-size="7.0" fill="#2a2a2a" stroke="#2a2a2a" stroke-width="0.12" text-anchor="end">0</text>
<line x1="402.60" y1="483.20" x2="404.40" y2="483.20" stroke="#231f20" stroke-width="0.7"/>
<line x1="402.60" y1="493.20" x2="404.40" y2="493.20" stroke="#231f20" stroke-width="0.7"/>
<line x1="402.60" y1="503.20" x2="404.40" y2="503.20" stroke="#231f20" stroke-width="0.7"/>
<line x1="402.60" y1="513.20" x2="404.40" y2="513.20" stroke="#231f20" stroke-width="0.7"/>
<line x1="409.50" y1="518.20" x2="409.50" y2="520.80" stroke="#231f20" stroke-width="0.9"/>
<text x="409.50" y="530.00" font-size="7.0" fill="#2a2a2a" stroke="#2a2a2a" stroke-width="0.12" text-anchor="middle">0</text>
<line x1="431.10" y1="518.20" x2="431.10" y2="520.80" stroke="#231f20" stroke-width="0.9"/>
<text x="431.10" y="530.00" font-size="7.0" fill="#2a2a2a" stroke="#2a2a2a" stroke-width="0.12" text-anchor="middle">4</text>
<line x1="452.80" y1="518.20" x2="452.80" y2="520.80" stroke="#231f20" stroke-width="0.9"/>
<text x="452.80" y="530.00" font-size="7.0" fill="#2a2a2a" stroke="#2a2a2a" stroke-width="0.12" text-anchor="middle">8</text>
<line x1="474.00" y1="518.20" x2="474.00" y2="520.80" stroke="#231f20" stroke-width="0.9"/>
<text x="474.00" y="530.00" font-size="7.0" fill="#2a2a2a" stroke="#2a2a2a" stroke-width="0.12" text-anchor="middle">12</text>
<line x1="420.30" y1="518.20" x2="420.30" y2="519.50" stroke="#231f20" stroke-width="0.6"/>
<line x1="441.95" y1="518.20" x2="441.95" y2="519.50" stroke="#231f20" stroke-width="0.6"/>
<line x1="463.40" y1="518.20" x2="463.40" y2="519.50" stroke="#231f20" stroke-width="0.6"/>
<text x="382.20" y="496.30" font-size="7.9" fill="#2a2a2a" stroke="#2a2a2a" stroke-width="0.12" text-anchor="middle" textLength="47.00" lengthAdjust="spacingAndGlyphs" transform="rotate(-90 382.20 496.30)">Percent survival</text>
<text x="440.90" y="542.00" font-size="8.6" fill="#2a2a2a" stroke="#2a2a2a" stroke-width="0.12" text-anchor="middle" textLength="31.20" lengthAdjust="spacingAndGlyphs">OS (years)</text>
<text x="441.20" y="472.10" font-size="9.4" fill="#222" stroke="#222" stroke-width="0.12" text-anchor="middle" font-style="italic" textLength="18.50" lengthAdjust="spacingAndGlyphs">GCB</text>
<path d="M409.60,478.50 L411.00,480.00 L412.30,481.50 L413.80,484.20 L415.40,487.00 L417.00,489.00 L418.50,490.80 L420.80,490.80 L420.80,492.00 L423.00,492.00 L423.00,492.80 L424.33,492.80 L424.33,492.94 L425.67,492.94 L425.67,493.14 L427.00,493.14 L427.00,493.30 L428.27,493.30 L428.27,493.42 L429.53,493.42 L429.53,493.58 L430.80,493.58 L430.80,493.80 L432.30,493.80 L432.30,494.60 L433.80,494.60 L433.80,495.40 L435.20,495.40 L435.20,495.31 L436.60,495.31 L436.60,495.46 L438.00,495.46 L438.00,495.60 L439.43,495.60 L439.43,495.83 L440.87,495.83 L440.87,495.60 L442.30,495.60 L442.30,495.80 L442.30,497.40 L456.90,497.40" fill="none" stroke="#c8193c" stroke-width="1.1" stroke-linejoin="round"/>
<path d="M409.60,478.50 L411.05,479.45 L412.50,480.40 L413.95,481.40 L415.40,482.30 L416.60,482.30 L416.60,482.63 L417.80,482.63 L417.80,482.60 L419.00,482.60 L419.00,482.90 L420.33,482.90 L420.33,483.02 L421.67,483.02 L421.67,483.21 L423.00,483.21 L423.00,483.50 L424.33,483.50 L424.33,483.66 L425.67,483.66 L425.67,483.88 L427.00,483.88 L427.00,484.10 L428.27,484.10 L428.27,484.43 L429.53,484.43 L429.53,484.56 L430.80,484.56 L430.80,484.60 L432.33,484.60 L432.33,485.00 L433.87,485.00 L433.87,484.97 L435.40,484.97 L435.40,485.40 L436.93,485.40 L436.93,485.50 L438.47,485.50 L438.47,486.01 L440.00,486.01 L440.00,486.20 L441.53,486.20 L441.53,486.61 L443.07,486.61 L443.07,486.72 L444.60,486.72 L444.60,487.00 L444.60,488.80 L446.20,488.80 L446.20,490.80 L448.50,490.80 L448.50,492.30 L464.60,492.30" fill="none" stroke="#2a5590" stroke-width="1.1" stroke-linejoin="round"/>
<path d="M409.60,478.50 L412.00,478.50 L412.00,480.20 L415.00,480.20 L415.00,481.80 L420.00,481.80 L420.00,482.80 L426.00,482.80 L426.00,483.80 L432.00,483.80 L432.00,484.80 L436.00,484.80 L436.00,485.60 L440.00,485.60 L440.00,487.00 L440.00,487.00 L440.00,490.80 L448.50,490.80 L448.50,490.80 L448.50,490.80 L448.50,495.40 L464.60,495.40 L464.60,495.40" fill="none" stroke="#8f9fc2" stroke-width="1.0" stroke-linejoin="round"/>
<path d="M409.60,478.50 L413.00,480.60 L418.00,482.20 L424.00,483.20 L430.00,484.20 L436.00,485.40 L440.00,486.40 L444.00,487.40 L448.50,490.00 L464.60,490.00" fill="none" stroke="#9cc3e2" stroke-width="0.9" stroke-linejoin="round"/>
<text x="408.00" y="508.80" font-size="7.0" fill="#2a2a2a" stroke="#2a2a2a" stroke-width="0.12" textLength="22.50" lengthAdjust="spacingAndGlyphs"><tspan font-style="italic">P</tspan> value</text>
<text x="408.00" y="516.20" font-size="7.0" fill="#2a2a2a" stroke="#2a2a2a" stroke-width="0.12" textLength="16.00" lengthAdjust="spacingAndGlyphs">&lt; .001</text>
<rect x="0" y="0" width="520" height="1" fill="#5a5a5a"/><rect x="0" y="550" width="520" height="1" fill="#5a5a5a"/><rect x="0" y="0" width="1" height="551" fill="#5a5a5a"/><rect x="519" y="0" width="1" height="551" fill="#5a5a5a"/>
</svg></body></html>
